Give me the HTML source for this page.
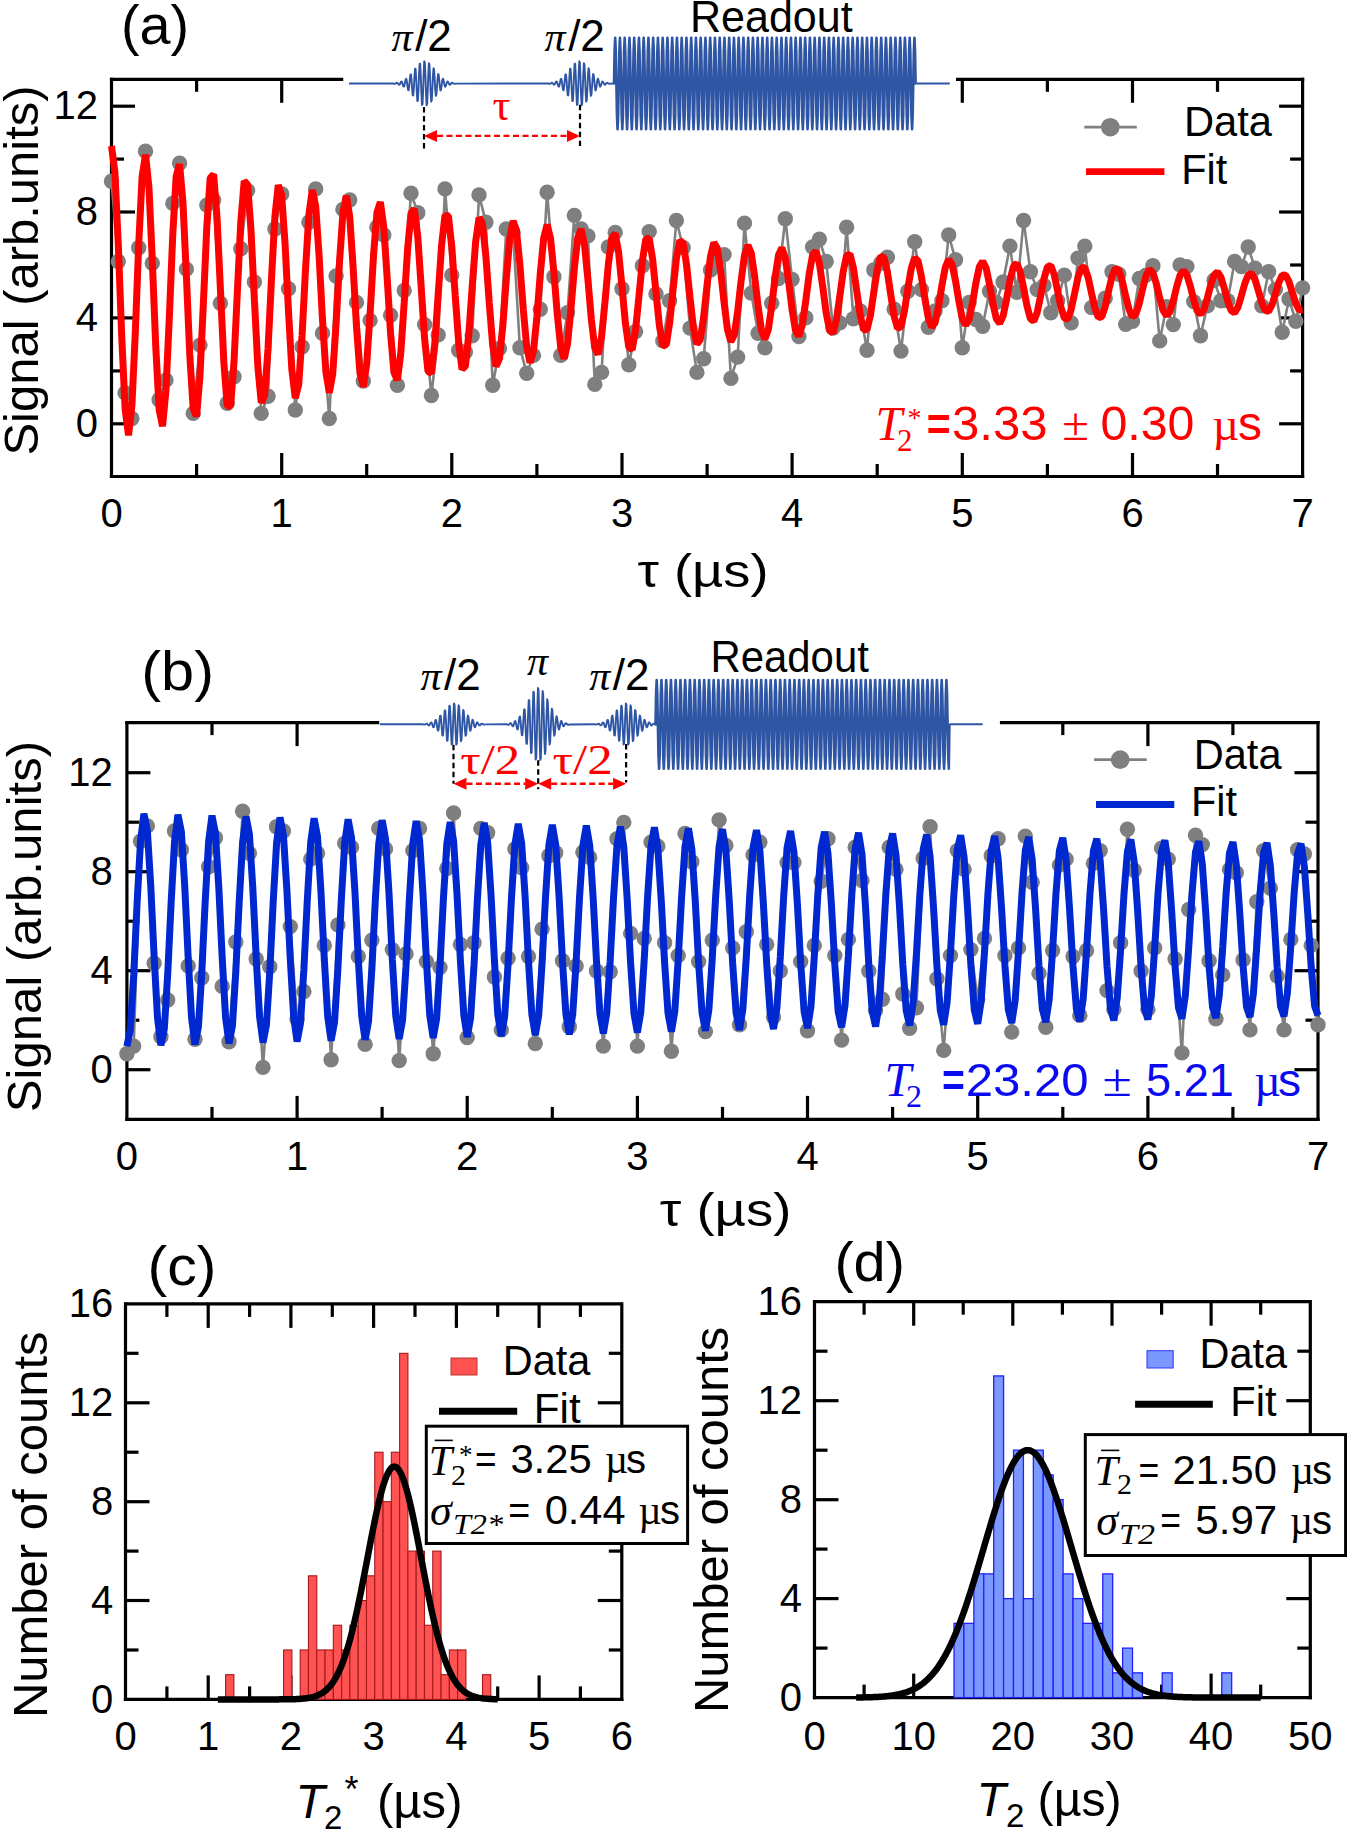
<!DOCTYPE html>
<html><head><meta charset="utf-8"><title>Ramsey and Hahn echo</title>
<style>html,body{margin:0;padding:0;background:#fff;overflow:hidden}svg{display:block}</style></head>
<body><svg width="1347" height="1832" viewBox="0 0 1347 1832">
<rect x="0" y="0" width="1347" height="1832" fill="#fff"/>
<line x1="109.9" y1="79.3" x2="343.5" y2="79.3" stroke="#000" stroke-width="3.2" />
<line x1="956" y1="79.3" x2="1304.2" y2="79.3" stroke="#000" stroke-width="3.2" />
<line x1="109.9" y1="476.5" x2="1304.2" y2="476.5" stroke="#000" stroke-width="3.2" />
<line x1="111.5" y1="77.7" x2="111.5" y2="478.1" stroke="#000" stroke-width="3.2" />
<line x1="1302.6" y1="77.7" x2="1302.6" y2="478.1" stroke="#000" stroke-width="3.2" />
<line x1="281.7" y1="476.5" x2="281.7" y2="453" stroke="#000" stroke-width="3.2" />
<line x1="281.7" y1="79.3" x2="281.7" y2="102.8" stroke="#000" stroke-width="3.2" />
<line x1="451.8" y1="476.5" x2="451.8" y2="453" stroke="#000" stroke-width="3.2" />
<line x1="622" y1="476.5" x2="622" y2="453" stroke="#000" stroke-width="3.2" />
<line x1="792.1" y1="476.5" x2="792.1" y2="453" stroke="#000" stroke-width="3.2" />
<line x1="962.3" y1="476.5" x2="962.3" y2="453" stroke="#000" stroke-width="3.2" />
<line x1="962.3" y1="79.3" x2="962.3" y2="102.8" stroke="#000" stroke-width="3.2" />
<line x1="1132.5" y1="476.5" x2="1132.5" y2="453" stroke="#000" stroke-width="3.2" />
<line x1="1132.5" y1="79.3" x2="1132.5" y2="102.8" stroke="#000" stroke-width="3.2" />
<line x1="196.6" y1="476.5" x2="196.6" y2="464" stroke="#000" stroke-width="3.2" />
<line x1="196.6" y1="79.3" x2="196.6" y2="91.8" stroke="#000" stroke-width="3.2" />
<line x1="366.7" y1="476.5" x2="366.7" y2="464" stroke="#000" stroke-width="3.2" />
<line x1="536.9" y1="476.5" x2="536.9" y2="464" stroke="#000" stroke-width="3.2" />
<line x1="707.1" y1="476.5" x2="707.1" y2="464" stroke="#000" stroke-width="3.2" />
<line x1="877.2" y1="476.5" x2="877.2" y2="464" stroke="#000" stroke-width="3.2" />
<line x1="1047.4" y1="476.5" x2="1047.4" y2="464" stroke="#000" stroke-width="3.2" />
<line x1="1047.4" y1="79.3" x2="1047.4" y2="91.8" stroke="#000" stroke-width="3.2" />
<line x1="1217.5" y1="476.5" x2="1217.5" y2="464" stroke="#000" stroke-width="3.2" />
<line x1="1217.5" y1="79.3" x2="1217.5" y2="91.8" stroke="#000" stroke-width="3.2" />
<line x1="111.5" y1="423.8" x2="135" y2="423.8" stroke="#000" stroke-width="3.2" />
<line x1="1302.6" y1="423.8" x2="1279.1" y2="423.8" stroke="#000" stroke-width="3.2" />
<line x1="111.5" y1="317.9" x2="135" y2="317.9" stroke="#000" stroke-width="3.2" />
<line x1="1302.6" y1="317.9" x2="1279.1" y2="317.9" stroke="#000" stroke-width="3.2" />
<line x1="111.5" y1="212" x2="135" y2="212" stroke="#000" stroke-width="3.2" />
<line x1="1302.6" y1="212" x2="1279.1" y2="212" stroke="#000" stroke-width="3.2" />
<line x1="111.5" y1="106.2" x2="135" y2="106.2" stroke="#000" stroke-width="3.2" />
<line x1="1302.6" y1="106.2" x2="1279.1" y2="106.2" stroke="#000" stroke-width="3.2" />
<line x1="111.5" y1="370.9" x2="124" y2="370.9" stroke="#000" stroke-width="3.2" />
<line x1="1302.6" y1="370.9" x2="1290.1" y2="370.9" stroke="#000" stroke-width="3.2" />
<line x1="111.5" y1="265" x2="124" y2="265" stroke="#000" stroke-width="3.2" />
<line x1="1302.6" y1="265" x2="1290.1" y2="265" stroke="#000" stroke-width="3.2" />
<line x1="111.5" y1="159.1" x2="124" y2="159.1" stroke="#000" stroke-width="3.2" />
<line x1="1302.6" y1="159.1" x2="1290.1" y2="159.1" stroke="#000" stroke-width="3.2" />
<line x1="125.3" y1="722.6" x2="379.5" y2="722.6" stroke="#000" stroke-width="3.2" />
<line x1="999.7" y1="722.6" x2="1319.6" y2="722.6" stroke="#000" stroke-width="3.2" />
<line x1="125.3" y1="1119.4" x2="1319.6" y2="1119.4" stroke="#000" stroke-width="3.2" />
<line x1="126.9" y1="721" x2="126.9" y2="1121" stroke="#000" stroke-width="3.2" />
<line x1="1318" y1="721" x2="1318" y2="1121" stroke="#000" stroke-width="3.2" />
<line x1="297.1" y1="1119.4" x2="297.1" y2="1095.9" stroke="#000" stroke-width="3.2" />
<line x1="297.1" y1="722.6" x2="297.1" y2="746.1" stroke="#000" stroke-width="3.2" />
<line x1="467.2" y1="1119.4" x2="467.2" y2="1095.9" stroke="#000" stroke-width="3.2" />
<line x1="637.4" y1="1119.4" x2="637.4" y2="1095.9" stroke="#000" stroke-width="3.2" />
<line x1="807.5" y1="1119.4" x2="807.5" y2="1095.9" stroke="#000" stroke-width="3.2" />
<line x1="977.7" y1="1119.4" x2="977.7" y2="1095.9" stroke="#000" stroke-width="3.2" />
<line x1="1147.9" y1="1119.4" x2="1147.9" y2="1095.9" stroke="#000" stroke-width="3.2" />
<line x1="1147.9" y1="722.6" x2="1147.9" y2="746.1" stroke="#000" stroke-width="3.2" />
<line x1="212" y1="1119.4" x2="212" y2="1106.9" stroke="#000" stroke-width="3.2" />
<line x1="212" y1="722.6" x2="212" y2="735.1" stroke="#000" stroke-width="3.2" />
<line x1="382.1" y1="1119.4" x2="382.1" y2="1106.9" stroke="#000" stroke-width="3.2" />
<line x1="552.3" y1="1119.4" x2="552.3" y2="1106.9" stroke="#000" stroke-width="3.2" />
<line x1="722.5" y1="1119.4" x2="722.5" y2="1106.9" stroke="#000" stroke-width="3.2" />
<line x1="892.6" y1="1119.4" x2="892.6" y2="1106.9" stroke="#000" stroke-width="3.2" />
<line x1="1062.8" y1="1119.4" x2="1062.8" y2="1106.9" stroke="#000" stroke-width="3.2" />
<line x1="1062.8" y1="722.6" x2="1062.8" y2="735.1" stroke="#000" stroke-width="3.2" />
<line x1="1232.9" y1="1119.4" x2="1232.9" y2="1106.9" stroke="#000" stroke-width="3.2" />
<line x1="1232.9" y1="722.6" x2="1232.9" y2="735.1" stroke="#000" stroke-width="3.2" />
<line x1="126.9" y1="1069.7" x2="150.4" y2="1069.7" stroke="#000" stroke-width="3.2" />
<line x1="1318" y1="1069.7" x2="1294.5" y2="1069.7" stroke="#000" stroke-width="3.2" />
<line x1="126.9" y1="970.7" x2="150.4" y2="970.7" stroke="#000" stroke-width="3.2" />
<line x1="1318" y1="970.7" x2="1294.5" y2="970.7" stroke="#000" stroke-width="3.2" />
<line x1="126.9" y1="871.7" x2="150.4" y2="871.7" stroke="#000" stroke-width="3.2" />
<line x1="1318" y1="871.7" x2="1294.5" y2="871.7" stroke="#000" stroke-width="3.2" />
<line x1="126.9" y1="772.7" x2="150.4" y2="772.7" stroke="#000" stroke-width="3.2" />
<line x1="1318" y1="772.7" x2="1294.5" y2="772.7" stroke="#000" stroke-width="3.2" />
<line x1="126.9" y1="1020.2" x2="139.4" y2="1020.2" stroke="#000" stroke-width="3.2" />
<line x1="1318" y1="1020.2" x2="1305.5" y2="1020.2" stroke="#000" stroke-width="3.2" />
<line x1="126.9" y1="921.2" x2="139.4" y2="921.2" stroke="#000" stroke-width="3.2" />
<line x1="1318" y1="921.2" x2="1305.5" y2="921.2" stroke="#000" stroke-width="3.2" />
<line x1="126.9" y1="822.2" x2="139.4" y2="822.2" stroke="#000" stroke-width="3.2" />
<line x1="1318" y1="822.2" x2="1305.5" y2="822.2" stroke="#000" stroke-width="3.2" />
<line x1="125.5" y1="1303.9" x2="621.8" y2="1303.9" stroke="#000" stroke-width="3.2" />
<line x1="123.9" y1="1699.4" x2="623.4" y2="1699.4" stroke="#000" stroke-width="3.2" />
<line x1="125.5" y1="1302.3" x2="125.5" y2="1701" stroke="#000" stroke-width="3.2" />
<line x1="621.8" y1="1302.3" x2="621.8" y2="1701" stroke="#000" stroke-width="3.2" />
<line x1="208.2" y1="1699.4" x2="208.2" y2="1675.4" stroke="#000" stroke-width="3.2" />
<line x1="208.2" y1="1303.9" x2="208.2" y2="1327.9" stroke="#000" stroke-width="3.2" />
<line x1="290.9" y1="1699.4" x2="290.9" y2="1675.4" stroke="#000" stroke-width="3.2" />
<line x1="290.9" y1="1303.9" x2="290.9" y2="1327.9" stroke="#000" stroke-width="3.2" />
<line x1="373.6" y1="1699.4" x2="373.6" y2="1675.4" stroke="#000" stroke-width="3.2" />
<line x1="373.6" y1="1303.9" x2="373.6" y2="1327.9" stroke="#000" stroke-width="3.2" />
<line x1="456.4" y1="1699.4" x2="456.4" y2="1675.4" stroke="#000" stroke-width="3.2" />
<line x1="456.4" y1="1303.9" x2="456.4" y2="1327.9" stroke="#000" stroke-width="3.2" />
<line x1="539.1" y1="1699.4" x2="539.1" y2="1675.4" stroke="#000" stroke-width="3.2" />
<line x1="539.1" y1="1303.9" x2="539.1" y2="1327.9" stroke="#000" stroke-width="3.2" />
<line x1="166.9" y1="1699.4" x2="166.9" y2="1686.4" stroke="#000" stroke-width="3.2" />
<line x1="166.9" y1="1303.9" x2="166.9" y2="1316.9" stroke="#000" stroke-width="3.2" />
<line x1="249.6" y1="1699.4" x2="249.6" y2="1686.4" stroke="#000" stroke-width="3.2" />
<line x1="249.6" y1="1303.9" x2="249.6" y2="1316.9" stroke="#000" stroke-width="3.2" />
<line x1="332.3" y1="1699.4" x2="332.3" y2="1686.4" stroke="#000" stroke-width="3.2" />
<line x1="332.3" y1="1303.9" x2="332.3" y2="1316.9" stroke="#000" stroke-width="3.2" />
<line x1="415" y1="1699.4" x2="415" y2="1686.4" stroke="#000" stroke-width="3.2" />
<line x1="415" y1="1303.9" x2="415" y2="1316.9" stroke="#000" stroke-width="3.2" />
<line x1="497.7" y1="1699.4" x2="497.7" y2="1686.4" stroke="#000" stroke-width="3.2" />
<line x1="497.7" y1="1303.9" x2="497.7" y2="1316.9" stroke="#000" stroke-width="3.2" />
<line x1="580.4" y1="1699.4" x2="580.4" y2="1686.4" stroke="#000" stroke-width="3.2" />
<line x1="580.4" y1="1303.9" x2="580.4" y2="1316.9" stroke="#000" stroke-width="3.2" />
<line x1="125.5" y1="1600.5" x2="149.5" y2="1600.5" stroke="#000" stroke-width="3.2" />
<line x1="621.8" y1="1600.5" x2="597.8" y2="1600.5" stroke="#000" stroke-width="3.2" />
<line x1="125.5" y1="1501.7" x2="149.5" y2="1501.7" stroke="#000" stroke-width="3.2" />
<line x1="621.8" y1="1501.7" x2="597.8" y2="1501.7" stroke="#000" stroke-width="3.2" />
<line x1="125.5" y1="1402.8" x2="149.5" y2="1402.8" stroke="#000" stroke-width="3.2" />
<line x1="621.8" y1="1402.8" x2="597.8" y2="1402.8" stroke="#000" stroke-width="3.2" />
<line x1="125.5" y1="1650" x2="138.5" y2="1650" stroke="#000" stroke-width="3.2" />
<line x1="621.8" y1="1650" x2="608.8" y2="1650" stroke="#000" stroke-width="3.2" />
<line x1="125.5" y1="1551.1" x2="138.5" y2="1551.1" stroke="#000" stroke-width="3.2" />
<line x1="621.8" y1="1551.1" x2="608.8" y2="1551.1" stroke="#000" stroke-width="3.2" />
<line x1="125.5" y1="1452.2" x2="138.5" y2="1452.2" stroke="#000" stroke-width="3.2" />
<line x1="621.8" y1="1452.2" x2="608.8" y2="1452.2" stroke="#000" stroke-width="3.2" />
<line x1="125.5" y1="1353.3" x2="138.5" y2="1353.3" stroke="#000" stroke-width="3.2" />
<line x1="621.8" y1="1353.3" x2="608.8" y2="1353.3" stroke="#000" stroke-width="3.2" />
<line x1="814.5" y1="1301.7" x2="1310.3" y2="1301.7" stroke="#000" stroke-width="3.2" />
<line x1="812.9" y1="1697.6" x2="1311.9" y2="1697.6" stroke="#000" stroke-width="3.2" />
<line x1="814.5" y1="1300.1" x2="814.5" y2="1699.2" stroke="#000" stroke-width="3.2" />
<line x1="1310.3" y1="1300.1" x2="1310.3" y2="1699.2" stroke="#000" stroke-width="3.2" />
<line x1="913.7" y1="1697.6" x2="913.7" y2="1673.6" stroke="#000" stroke-width="3.2" />
<line x1="913.7" y1="1301.7" x2="913.7" y2="1325.7" stroke="#000" stroke-width="3.2" />
<line x1="1012.8" y1="1697.6" x2="1012.8" y2="1673.6" stroke="#000" stroke-width="3.2" />
<line x1="1012.8" y1="1301.7" x2="1012.8" y2="1325.7" stroke="#000" stroke-width="3.2" />
<line x1="1112" y1="1697.6" x2="1112" y2="1673.6" stroke="#000" stroke-width="3.2" />
<line x1="1112" y1="1301.7" x2="1112" y2="1325.7" stroke="#000" stroke-width="3.2" />
<line x1="1211.1" y1="1697.6" x2="1211.1" y2="1673.6" stroke="#000" stroke-width="3.2" />
<line x1="1211.1" y1="1301.7" x2="1211.1" y2="1325.7" stroke="#000" stroke-width="3.2" />
<line x1="864.1" y1="1697.6" x2="864.1" y2="1684.6" stroke="#000" stroke-width="3.2" />
<line x1="864.1" y1="1301.7" x2="864.1" y2="1314.7" stroke="#000" stroke-width="3.2" />
<line x1="963.2" y1="1697.6" x2="963.2" y2="1684.6" stroke="#000" stroke-width="3.2" />
<line x1="963.2" y1="1301.7" x2="963.2" y2="1314.7" stroke="#000" stroke-width="3.2" />
<line x1="1062.4" y1="1697.6" x2="1062.4" y2="1684.6" stroke="#000" stroke-width="3.2" />
<line x1="1062.4" y1="1301.7" x2="1062.4" y2="1314.7" stroke="#000" stroke-width="3.2" />
<line x1="1161.6" y1="1697.6" x2="1161.6" y2="1684.6" stroke="#000" stroke-width="3.2" />
<line x1="1161.6" y1="1301.7" x2="1161.6" y2="1314.7" stroke="#000" stroke-width="3.2" />
<line x1="1260.7" y1="1697.6" x2="1260.7" y2="1684.6" stroke="#000" stroke-width="3.2" />
<line x1="1260.7" y1="1301.7" x2="1260.7" y2="1314.7" stroke="#000" stroke-width="3.2" />
<line x1="814.5" y1="1598.6" x2="838.5" y2="1598.6" stroke="#000" stroke-width="3.2" />
<line x1="1310.3" y1="1598.6" x2="1286.3" y2="1598.6" stroke="#000" stroke-width="3.2" />
<line x1="814.5" y1="1499.7" x2="838.5" y2="1499.7" stroke="#000" stroke-width="3.2" />
<line x1="1310.3" y1="1499.7" x2="1286.3" y2="1499.7" stroke="#000" stroke-width="3.2" />
<line x1="814.5" y1="1400.7" x2="838.5" y2="1400.7" stroke="#000" stroke-width="3.2" />
<line x1="1310.3" y1="1400.7" x2="1286.3" y2="1400.7" stroke="#000" stroke-width="3.2" />
<line x1="814.5" y1="1648.1" x2="827.5" y2="1648.1" stroke="#000" stroke-width="3.2" />
<line x1="1310.3" y1="1648.1" x2="1297.3" y2="1648.1" stroke="#000" stroke-width="3.2" />
<line x1="814.5" y1="1549.1" x2="827.5" y2="1549.1" stroke="#000" stroke-width="3.2" />
<line x1="1310.3" y1="1549.1" x2="1297.3" y2="1549.1" stroke="#000" stroke-width="3.2" />
<line x1="814.5" y1="1450.2" x2="827.5" y2="1450.2" stroke="#000" stroke-width="3.2" />
<line x1="1310.3" y1="1450.2" x2="1297.3" y2="1450.2" stroke="#000" stroke-width="3.2" />
<line x1="814.5" y1="1351.2" x2="827.5" y2="1351.2" stroke="#000" stroke-width="3.2" />
<line x1="1310.3" y1="1351.2" x2="1297.3" y2="1351.2" stroke="#000" stroke-width="3.2" />
<text x="111.5" y="527.3" font-family='"Liberation Sans", sans-serif' font-size="40" fill="#000" text-anchor="middle" >0</text>
<text x="126.9" y="1169.8" font-family='"Liberation Sans", sans-serif' font-size="40" fill="#000" text-anchor="middle" >0</text>
<text x="281.7" y="527.3" font-family='"Liberation Sans", sans-serif' font-size="40" fill="#000" text-anchor="middle" >1</text>
<text x="297.1" y="1169.8" font-family='"Liberation Sans", sans-serif' font-size="40" fill="#000" text-anchor="middle" >1</text>
<text x="451.8" y="527.3" font-family='"Liberation Sans", sans-serif' font-size="40" fill="#000" text-anchor="middle" >2</text>
<text x="467.2" y="1169.8" font-family='"Liberation Sans", sans-serif' font-size="40" fill="#000" text-anchor="middle" >2</text>
<text x="622" y="527.3" font-family='"Liberation Sans", sans-serif' font-size="40" fill="#000" text-anchor="middle" >3</text>
<text x="637.4" y="1169.8" font-family='"Liberation Sans", sans-serif' font-size="40" fill="#000" text-anchor="middle" >3</text>
<text x="792.1" y="527.3" font-family='"Liberation Sans", sans-serif' font-size="40" fill="#000" text-anchor="middle" >4</text>
<text x="807.5" y="1169.8" font-family='"Liberation Sans", sans-serif' font-size="40" fill="#000" text-anchor="middle" >4</text>
<text x="962.3" y="527.3" font-family='"Liberation Sans", sans-serif' font-size="40" fill="#000" text-anchor="middle" >5</text>
<text x="977.7" y="1169.8" font-family='"Liberation Sans", sans-serif' font-size="40" fill="#000" text-anchor="middle" >5</text>
<text x="1132.5" y="527.3" font-family='"Liberation Sans", sans-serif' font-size="40" fill="#000" text-anchor="middle" >6</text>
<text x="1147.9" y="1169.8" font-family='"Liberation Sans", sans-serif' font-size="40" fill="#000" text-anchor="middle" >6</text>
<text x="1302.6" y="527.3" font-family='"Liberation Sans", sans-serif' font-size="40" fill="#000" text-anchor="middle" >7</text>
<text x="1318" y="1169.8" font-family='"Liberation Sans", sans-serif' font-size="40" fill="#000" text-anchor="middle" >7</text>
<text x="98" y="436.8" font-family='"Liberation Sans", sans-serif' font-size="40" fill="#000" text-anchor="end" >0</text>
<text x="112.8" y="1083" font-family='"Liberation Sans", sans-serif' font-size="40" fill="#000" text-anchor="end" >0</text>
<text x="98" y="330.9" font-family='"Liberation Sans", sans-serif' font-size="40" fill="#000" text-anchor="end" >4</text>
<text x="112.8" y="984" font-family='"Liberation Sans", sans-serif' font-size="40" fill="#000" text-anchor="end" >4</text>
<text x="98" y="225" font-family='"Liberation Sans", sans-serif' font-size="40" fill="#000" text-anchor="end" >8</text>
<text x="112.8" y="885" font-family='"Liberation Sans", sans-serif' font-size="40" fill="#000" text-anchor="end" >8</text>
<text x="98" y="119.2" font-family='"Liberation Sans", sans-serif' font-size="40" fill="#000" text-anchor="end" >12</text>
<text x="112.8" y="786" font-family='"Liberation Sans", sans-serif' font-size="40" fill="#000" text-anchor="end" >12</text>
<text x="125.5" y="1750.3" font-family='"Liberation Sans", sans-serif' font-size="40" fill="#000" text-anchor="middle" >0</text>
<text x="208.2" y="1750.3" font-family='"Liberation Sans", sans-serif' font-size="40" fill="#000" text-anchor="middle" >1</text>
<text x="290.9" y="1750.3" font-family='"Liberation Sans", sans-serif' font-size="40" fill="#000" text-anchor="middle" >2</text>
<text x="373.6" y="1750.3" font-family='"Liberation Sans", sans-serif' font-size="40" fill="#000" text-anchor="middle" >3</text>
<text x="456.4" y="1750.3" font-family='"Liberation Sans", sans-serif' font-size="40" fill="#000" text-anchor="middle" >4</text>
<text x="539.1" y="1750.3" font-family='"Liberation Sans", sans-serif' font-size="40" fill="#000" text-anchor="middle" >5</text>
<text x="621.8" y="1750.3" font-family='"Liberation Sans", sans-serif' font-size="40" fill="#000" text-anchor="middle" >6</text>
<text x="814.5" y="1749.8" font-family='"Liberation Sans", sans-serif' font-size="40" fill="#000" text-anchor="middle" >0</text>
<text x="913.7" y="1749.8" font-family='"Liberation Sans", sans-serif' font-size="40" fill="#000" text-anchor="middle" >10</text>
<text x="1012.8" y="1749.8" font-family='"Liberation Sans", sans-serif' font-size="40" fill="#000" text-anchor="middle" >20</text>
<text x="1112" y="1749.8" font-family='"Liberation Sans", sans-serif' font-size="40" fill="#000" text-anchor="middle" >30</text>
<text x="1211.1" y="1749.8" font-family='"Liberation Sans", sans-serif' font-size="40" fill="#000" text-anchor="middle" >40</text>
<text x="1310.3" y="1749.8" font-family='"Liberation Sans", sans-serif' font-size="40" fill="#000" text-anchor="middle" >50</text>
<text x="113.3" y="1712.7" font-family='"Liberation Sans", sans-serif' font-size="40" fill="#000" text-anchor="end" >0</text>
<text x="802" y="1710.6" font-family='"Liberation Sans", sans-serif' font-size="40" fill="#000" text-anchor="end" >0</text>
<text x="113.3" y="1613.8" font-family='"Liberation Sans", sans-serif' font-size="40" fill="#000" text-anchor="end" >4</text>
<text x="802" y="1611.6" font-family='"Liberation Sans", sans-serif' font-size="40" fill="#000" text-anchor="end" >4</text>
<text x="113.3" y="1515" font-family='"Liberation Sans", sans-serif' font-size="40" fill="#000" text-anchor="end" >8</text>
<text x="802" y="1512.7" font-family='"Liberation Sans", sans-serif' font-size="40" fill="#000" text-anchor="end" >8</text>
<text x="113.3" y="1416.1" font-family='"Liberation Sans", sans-serif' font-size="40" fill="#000" text-anchor="end" >12</text>
<text x="802" y="1413.7" font-family='"Liberation Sans", sans-serif' font-size="40" fill="#000" text-anchor="end" >12</text>
<text x="113.3" y="1317.2" font-family='"Liberation Sans", sans-serif' font-size="40" fill="#000" text-anchor="end" >16</text>
<text x="802" y="1314.7" font-family='"Liberation Sans", sans-serif' font-size="40" fill="#000" text-anchor="end" >16</text>
<text x="-2.2" y="0" transform="translate(37.5,453.4) rotate(-90)" font-family='"Liberation Sans", sans-serif' font-size="49" textLength="370.2" lengthAdjust="spacingAndGlyphs">Signal (arb.units)</text>
<text x="-2.2" y="0" transform="translate(40.5,1110) rotate(-90)" font-family='"Liberation Sans", sans-serif' font-size="49" textLength="371.3" lengthAdjust="spacingAndGlyphs">Signal (arb.units)</text>
<text x="-4" y="0" transform="translate(47.4,1714.1) rotate(-90)" font-family='"Liberation Sans", sans-serif' font-size="49" textLength="386.6" lengthAdjust="spacingAndGlyphs">Number of counts</text>
<text x="-4" y="0" transform="translate(728.1,1709) rotate(-90)" font-family='"Liberation Sans", sans-serif' font-size="49" textLength="386.2" lengthAdjust="spacingAndGlyphs">Number of counts</text>
<text x="637.5" y="587" font-family='"Liberation Sans", sans-serif' font-size="46" fill="#000" textLength="131" lengthAdjust="spacingAndGlyphs" >τ (µs)</text>
<text x="659.8" y="1226.4" font-family='"Liberation Sans", sans-serif' font-size="46" fill="#000" textLength="131.5" lengthAdjust="spacingAndGlyphs" >τ (µs)</text>
<text x="295.5" y="1818" font-family='"Liberation Sans", sans-serif' font-size="48" fill="#000" font-style="italic" >T</text>
<text x="324" y="1829" font-family='"Liberation Sans", sans-serif' font-size="33" fill="#000" >2</text>
<text x="344.5" y="1802" font-family='"Liberation Sans", sans-serif' font-size="36" fill="#000" >*</text>
<text x="377" y="1818" font-family='"Liberation Sans", sans-serif' font-size="48" fill="#000" textLength="85.5" lengthAdjust="spacingAndGlyphs" >(µs)</text>
<text x="976.5" y="1815.7" font-family='"Liberation Sans", sans-serif' font-size="48" fill="#000" font-style="italic" >T</text>
<text x="1006" y="1827" font-family='"Liberation Sans", sans-serif' font-size="33" fill="#000" >2</text>
<text x="1037.6" y="1815.7" font-family='"Liberation Sans", sans-serif' font-size="48" fill="#000" textLength="84" lengthAdjust="spacingAndGlyphs" >(µs)</text>
<text x="121" y="43.5" font-family='"Liberation Sans", sans-serif' font-size="55" fill="#000" textLength="68.1" lengthAdjust="spacingAndGlyphs" >(a)</text>
<text x="141.3" y="689.5" font-family='"Liberation Sans", sans-serif' font-size="55" fill="#000" textLength="72.7" lengthAdjust="spacingAndGlyphs" >(b)</text>
<text x="147.6" y="1284.5" font-family='"Liberation Sans", sans-serif' font-size="55" fill="#000" textLength="68.8" lengthAdjust="spacingAndGlyphs" >(c)</text>
<text x="834.4" y="1280.5" font-family='"Liberation Sans", sans-serif' font-size="55" fill="#000" textLength="70.6" lengthAdjust="spacingAndGlyphs" >(d)</text>
<rect x="225.60" y="1674.68" width="8.29" height="24.72" fill="#ff5252" stroke="#a81818" stroke-width="1.1"/>
<rect x="283.61" y="1649.96" width="8.29" height="49.44" fill="#ff5252" stroke="#a81818" stroke-width="1.1"/>
<rect x="300.18" y="1649.96" width="8.29" height="49.44" fill="#ff5252" stroke="#a81818" stroke-width="1.1"/>
<rect x="308.47" y="1575.81" width="8.29" height="123.59" fill="#ff5252" stroke="#a81818" stroke-width="1.1"/>
<rect x="316.76" y="1649.96" width="8.29" height="49.44" fill="#ff5252" stroke="#a81818" stroke-width="1.1"/>
<rect x="325.04" y="1649.96" width="8.29" height="49.44" fill="#ff5252" stroke="#a81818" stroke-width="1.1"/>
<rect x="333.33" y="1625.24" width="8.29" height="74.16" fill="#ff5252" stroke="#a81818" stroke-width="1.1"/>
<rect x="341.62" y="1649.96" width="8.29" height="49.44" fill="#ff5252" stroke="#a81818" stroke-width="1.1"/>
<rect x="349.90" y="1625.24" width="8.29" height="74.16" fill="#ff5252" stroke="#a81818" stroke-width="1.1"/>
<rect x="358.19" y="1600.53" width="8.29" height="98.88" fill="#ff5252" stroke="#a81818" stroke-width="1.1"/>
<rect x="366.48" y="1575.81" width="8.29" height="123.59" fill="#ff5252" stroke="#a81818" stroke-width="1.1"/>
<rect x="374.77" y="1452.21" width="8.29" height="247.19" fill="#ff5252" stroke="#a81818" stroke-width="1.1"/>
<rect x="383.05" y="1501.65" width="8.29" height="197.75" fill="#ff5252" stroke="#a81818" stroke-width="1.1"/>
<rect x="391.34" y="1452.21" width="8.29" height="247.19" fill="#ff5252" stroke="#a81818" stroke-width="1.1"/>
<rect x="399.63" y="1353.34" width="8.29" height="346.06" fill="#ff5252" stroke="#a81818" stroke-width="1.1"/>
<rect x="407.91" y="1551.09" width="8.29" height="148.31" fill="#ff5252" stroke="#a81818" stroke-width="1.1"/>
<rect x="416.20" y="1551.09" width="8.29" height="148.31" fill="#ff5252" stroke="#a81818" stroke-width="1.1"/>
<rect x="424.49" y="1625.24" width="8.29" height="74.16" fill="#ff5252" stroke="#a81818" stroke-width="1.1"/>
<rect x="432.77" y="1551.09" width="8.29" height="148.31" fill="#ff5252" stroke="#a81818" stroke-width="1.1"/>
<rect x="441.06" y="1674.68" width="8.29" height="24.72" fill="#ff5252" stroke="#a81818" stroke-width="1.1"/>
<rect x="449.35" y="1649.96" width="8.29" height="49.44" fill="#ff5252" stroke="#a81818" stroke-width="1.1"/>
<rect x="457.64" y="1649.96" width="8.29" height="49.44" fill="#ff5252" stroke="#a81818" stroke-width="1.1"/>
<rect x="482.50" y="1674.68" width="8.29" height="24.72" fill="#ff5252" stroke="#a81818" stroke-width="1.1"/>
<rect x="954.02" y="1623.37" width="9.92" height="74.23" fill="#7b98ff" stroke="#2020ff" stroke-width="1.3"/>
<rect x="963.93" y="1623.37" width="9.92" height="74.23" fill="#7b98ff" stroke="#2020ff" stroke-width="1.3"/>
<rect x="973.85" y="1573.88" width="9.92" height="123.72" fill="#7b98ff" stroke="#2020ff" stroke-width="1.3"/>
<rect x="983.77" y="1573.88" width="9.92" height="123.72" fill="#7b98ff" stroke="#2020ff" stroke-width="1.3"/>
<rect x="993.68" y="1375.93" width="9.92" height="321.67" fill="#7b98ff" stroke="#2020ff" stroke-width="1.3"/>
<rect x="1003.60" y="1598.62" width="9.92" height="98.97" fill="#7b98ff" stroke="#2020ff" stroke-width="1.3"/>
<rect x="1013.51" y="1450.16" width="9.92" height="247.44" fill="#7b98ff" stroke="#2020ff" stroke-width="1.3"/>
<rect x="1023.43" y="1598.62" width="9.92" height="98.97" fill="#7b98ff" stroke="#2020ff" stroke-width="1.3"/>
<rect x="1033.35" y="1450.16" width="9.92" height="247.44" fill="#7b98ff" stroke="#2020ff" stroke-width="1.3"/>
<rect x="1043.26" y="1474.91" width="9.92" height="222.69" fill="#7b98ff" stroke="#2020ff" stroke-width="1.3"/>
<rect x="1053.18" y="1499.65" width="9.92" height="197.95" fill="#7b98ff" stroke="#2020ff" stroke-width="1.3"/>
<rect x="1063.09" y="1573.88" width="9.92" height="123.72" fill="#7b98ff" stroke="#2020ff" stroke-width="1.3"/>
<rect x="1073.01" y="1598.62" width="9.92" height="98.97" fill="#7b98ff" stroke="#2020ff" stroke-width="1.3"/>
<rect x="1082.93" y="1623.37" width="9.92" height="74.23" fill="#7b98ff" stroke="#2020ff" stroke-width="1.3"/>
<rect x="1092.84" y="1623.37" width="9.92" height="74.23" fill="#7b98ff" stroke="#2020ff" stroke-width="1.3"/>
<rect x="1102.76" y="1573.88" width="9.92" height="123.72" fill="#7b98ff" stroke="#2020ff" stroke-width="1.3"/>
<rect x="1112.67" y="1672.86" width="9.92" height="24.74" fill="#7b98ff" stroke="#2020ff" stroke-width="1.3"/>
<rect x="1122.59" y="1648.11" width="9.92" height="49.49" fill="#7b98ff" stroke="#2020ff" stroke-width="1.3"/>
<rect x="1132.51" y="1672.86" width="9.92" height="24.74" fill="#7b98ff" stroke="#2020ff" stroke-width="1.3"/>
<rect x="1162.25" y="1672.86" width="9.92" height="24.74" fill="#7b98ff" stroke="#2020ff" stroke-width="1.3"/>
<rect x="1221.75" y="1672.86" width="9.92" height="24.74" fill="#7b98ff" stroke="#2020ff" stroke-width="1.3"/>
<path d="M217.89,1699.40 L219.30,1699.40 L220.71,1699.40 L222.11,1699.40 L223.52,1699.40 L224.93,1699.40 L226.33,1699.40 L227.74,1699.40 L229.14,1699.40 L230.55,1699.40 L231.96,1699.40 L233.36,1699.40 L234.77,1699.40 L236.17,1699.40 L237.58,1699.40 L238.99,1699.40 L240.39,1699.40 L241.80,1699.40 L243.21,1699.40 L244.61,1699.40 L246.02,1699.40 L247.42,1699.40 L248.83,1699.40 L250.24,1699.40 L251.64,1699.40 L253.05,1699.40 L254.46,1699.40 L255.86,1699.40 L257.27,1699.40 L258.67,1699.40 L260.08,1699.40 L261.49,1699.40 L262.89,1699.40 L264.30,1699.40 L265.70,1699.40 L267.11,1699.40 L268.52,1699.40 L269.92,1699.39 L271.33,1699.39 L272.74,1699.39 L274.14,1699.39 L275.55,1699.39 L276.95,1699.38 L278.36,1699.38 L279.77,1699.37 L281.17,1699.37 L282.58,1699.36 L283.99,1699.35 L285.39,1699.34 L286.80,1699.32 L288.20,1699.30 L289.61,1699.28 L291.02,1699.26 L292.42,1699.22 L293.83,1699.19 L295.23,1699.14 L296.64,1699.08 L298.05,1699.02 L299.45,1698.94 L300.86,1698.85 L302.27,1698.74 L303.67,1698.61 L305.08,1698.46 L306.48,1698.28 L307.89,1698.08 L309.30,1697.84 L310.70,1697.56 L312.11,1697.23 L313.51,1696.86 L314.92,1696.43 L316.33,1695.94 L317.73,1695.38 L319.14,1694.74 L320.55,1694.01 L321.95,1693.19 L323.36,1692.26 L324.76,1691.21 L326.17,1690.04 L327.58,1688.73 L328.98,1687.27 L330.39,1685.64 L331.80,1683.84 L333.20,1681.85 L334.61,1679.66 L336.01,1677.25 L337.42,1674.63 L338.83,1671.77 L340.23,1668.66 L341.64,1665.29 L343.04,1661.66 L344.45,1657.76 L345.86,1653.57 L347.26,1649.11 L348.67,1644.36 L350.08,1639.33 L351.48,1634.02 L352.89,1628.43 L354.29,1622.58 L355.70,1616.47 L357.11,1610.12 L358.51,1603.54 L359.92,1596.76 L361.33,1589.81 L362.73,1582.70 L364.14,1575.47 L365.54,1568.15 L366.95,1560.78 L368.36,1553.39 L369.76,1546.03 L371.17,1538.74 L372.57,1531.57 L373.98,1524.55 L375.39,1517.74 L376.79,1511.17 L378.20,1504.91 L379.61,1498.98 L381.01,1493.44 L382.42,1488.32 L383.82,1483.67 L385.23,1479.51 L386.64,1475.89 L388.04,1472.83 L389.45,1470.35 L390.86,1468.49 L392.26,1467.24 L393.67,1466.62 L395.07,1466.64 L396.48,1467.29 L397.89,1468.58 L399.29,1470.48 L400.70,1472.99 L402.10,1476.09 L403.51,1479.74 L404.92,1483.93 L406.32,1488.61 L407.73,1493.75 L409.14,1499.32 L410.54,1505.27 L411.95,1511.55 L413.35,1518.13 L414.76,1524.96 L416.17,1531.99 L417.57,1539.17 L418.98,1546.46 L420.38,1553.82 L421.79,1561.21 L423.20,1568.58 L424.60,1575.89 L426.01,1583.12 L427.42,1590.22 L428.82,1597.17 L430.23,1603.93 L431.63,1610.50 L433.04,1616.83 L434.45,1622.93 L435.85,1628.77 L437.26,1634.34 L438.67,1639.64 L440.07,1644.65 L441.48,1649.38 L442.88,1653.83 L444.29,1657.99 L445.70,1661.88 L447.10,1665.50 L448.51,1668.85 L449.91,1671.94 L451.32,1674.79 L452.73,1677.40 L454.13,1679.79 L455.54,1681.97 L456.95,1683.95 L458.35,1685.74 L459.76,1687.36 L461.16,1688.81 L462.57,1690.11 L463.98,1691.28 L465.38,1692.32 L466.79,1693.24 L468.20,1694.06 L469.60,1694.78 L471.01,1695.41 L472.41,1695.97 L473.82,1696.46 L475.23,1696.88 L476.63,1697.25 L478.04,1697.57 L479.44,1697.85 L480.85,1698.09 L482.26,1698.29 L483.66,1698.47 L485.07,1698.62 L486.48,1698.75 L487.88,1698.85 L489.29,1698.95 L490.69,1699.02 L492.10,1699.09 L493.51,1699.14 L494.91,1699.19 L496.32,1699.23 L497.72,1699.26" fill="none" stroke="#000" stroke-width="6.5" stroke-linejoin="round"/>
<path d="M856.15,1697.48 L857.50,1697.47 L858.85,1697.45 L860.21,1697.43 L861.56,1697.41 L862.91,1697.39 L864.27,1697.36 L865.62,1697.33 L866.97,1697.30 L868.32,1697.27 L869.68,1697.23 L871.03,1697.18 L872.38,1697.14 L873.74,1697.08 L875.09,1697.02 L876.44,1696.96 L877.80,1696.89 L879.15,1696.81 L880.50,1696.72 L881.86,1696.62 L883.21,1696.52 L884.56,1696.40 L885.92,1696.28 L887.27,1696.14 L888.62,1695.99 L889.97,1695.82 L891.33,1695.64 L892.68,1695.45 L894.03,1695.23 L895.39,1695.00 L896.74,1694.75 L898.09,1694.48 L899.45,1694.18 L900.80,1693.86 L902.15,1693.51 L903.51,1693.13 L904.86,1692.73 L906.21,1692.29 L907.56,1691.82 L908.92,1691.31 L910.27,1690.76 L911.62,1690.18 L912.98,1689.55 L914.33,1688.88 L915.68,1688.16 L917.04,1687.38 L918.39,1686.56 L919.74,1685.68 L921.10,1684.75 L922.45,1683.75 L923.80,1682.69 L925.15,1681.57 L926.51,1680.38 L927.86,1679.11 L929.21,1677.78 L930.57,1676.36 L931.92,1674.87 L933.27,1673.30 L934.63,1671.64 L935.98,1669.89 L937.33,1668.06 L938.69,1666.13 L940.04,1664.11 L941.39,1661.99 L942.74,1659.78 L944.10,1657.47 L945.45,1655.05 L946.80,1652.54 L948.16,1649.92 L949.51,1647.19 L950.86,1644.37 L952.22,1641.43 L953.57,1638.39 L954.92,1635.25 L956.28,1632.00 L957.63,1628.65 L958.98,1625.20 L960.33,1621.64 L961.69,1617.99 L963.04,1614.24 L964.39,1610.40 L965.75,1606.47 L967.10,1602.45 L968.45,1598.34 L969.81,1594.16 L971.16,1589.91 L972.51,1585.59 L973.87,1581.21 L975.22,1576.77 L976.57,1572.28 L977.92,1567.74 L979.28,1563.17 L980.63,1558.58 L981.98,1553.96 L983.34,1549.33 L984.69,1544.70 L986.04,1540.07 L987.40,1535.46 L988.75,1530.87 L990.10,1526.31 L991.46,1521.80 L992.81,1517.34 L994.16,1512.94 L995.52,1508.62 L996.87,1504.38 L998.22,1500.23 L999.57,1496.19 L1000.93,1492.26 L1002.28,1488.45 L1003.63,1484.77 L1004.99,1481.24 L1006.34,1477.86 L1007.69,1474.63 L1009.05,1471.58 L1010.40,1468.70 L1011.75,1466.00 L1013.11,1463.50 L1014.46,1461.19 L1015.81,1459.09 L1017.16,1457.20 L1018.52,1455.53 L1019.87,1454.07 L1021.22,1452.84 L1022.58,1451.84 L1023.93,1451.07 L1025.28,1450.54 L1026.64,1450.23 L1027.99,1450.17 L1029.34,1450.34 L1030.70,1450.74 L1032.05,1451.38 L1033.40,1452.25 L1034.75,1453.35 L1036.11,1454.68 L1037.46,1456.23 L1038.81,1458.00 L1040.17,1459.98 L1041.52,1462.17 L1042.87,1464.57 L1044.23,1467.15 L1045.58,1469.93 L1046.93,1472.89 L1048.29,1476.02 L1049.64,1479.31 L1050.99,1482.76 L1052.34,1486.36 L1053.70,1490.10 L1055.05,1493.96 L1056.40,1497.94 L1057.76,1502.03 L1059.11,1506.22 L1060.46,1510.50 L1061.82,1514.85 L1063.17,1519.28 L1064.52,1523.76 L1065.88,1528.29 L1067.23,1532.87 L1068.58,1537.47 L1069.93,1542.09 L1071.29,1546.72 L1072.64,1551.35 L1073.99,1555.98 L1075.35,1560.58 L1076.70,1565.17 L1078.05,1569.72 L1079.41,1574.24 L1080.76,1578.71 L1082.11,1583.13 L1083.47,1587.48 L1084.82,1591.78 L1086.17,1596.00 L1087.52,1600.14 L1088.88,1604.21 L1090.23,1608.19 L1091.58,1612.09 L1092.94,1615.89 L1094.29,1619.60 L1095.64,1623.21 L1097.00,1626.72 L1098.35,1630.13 L1099.70,1633.43 L1101.06,1636.63 L1102.41,1639.73 L1103.76,1642.73 L1105.12,1645.61 L1106.47,1648.40 L1107.82,1651.07 L1109.17,1653.65 L1110.53,1656.12 L1111.88,1658.49 L1113.23,1660.76 L1114.59,1662.93 L1115.94,1665.00 L1117.29,1666.98 L1118.65,1668.87 L1120.00,1670.66 L1121.35,1672.37 L1122.71,1673.99 L1124.06,1675.53 L1125.41,1676.99 L1126.76,1678.37 L1128.12,1679.68 L1129.47,1680.91 L1130.82,1682.07 L1132.18,1683.16 L1133.53,1684.20 L1134.88,1685.16 L1136.24,1686.07 L1137.59,1686.93 L1138.94,1687.73 L1140.30,1688.48 L1141.65,1689.18 L1143.00,1689.83 L1144.35,1690.44 L1145.71,1691.01 L1147.06,1691.54 L1148.41,1692.03 L1149.77,1692.48 L1151.12,1692.91 L1152.47,1693.30 L1153.83,1693.66 L1155.18,1694.00 L1156.53,1694.31 L1157.89,1694.60 L1159.24,1694.86 L1160.59,1695.11 L1161.94,1695.33 L1163.30,1695.54 L1164.65,1695.72 L1166.00,1695.90 L1167.36,1696.06 L1168.71,1696.20 L1170.06,1696.33 L1171.42,1696.46 L1172.77,1696.57 L1174.12,1696.67 L1175.48,1696.76 L1176.83,1696.84 L1178.18,1696.92 L1179.53,1696.99 L1180.89,1697.05 L1182.24,1697.11 L1183.59,1697.16 L1184.95,1697.20 L1186.30,1697.25 L1187.65,1697.28 L1189.01,1697.32 L1190.36,1697.35 L1191.71,1697.37 L1193.07,1697.40 L1194.42,1697.42 L1195.77,1697.44 L1197.12,1697.46 L1198.48,1697.48 L1199.83,1697.49 L1201.18,1697.50 L1202.54,1697.51 L1203.89,1697.52 L1205.24,1697.53 L1206.60,1697.54 L1207.95,1697.55 L1209.30,1697.55 L1210.66,1697.56 L1212.01,1697.56 L1213.36,1697.57 L1214.72,1697.57 L1216.07,1697.58 L1217.42,1697.58 L1218.77,1697.58 L1220.13,1697.58 L1221.48,1697.59 L1222.83,1697.59 L1224.19,1697.59 L1225.54,1697.59 L1226.89,1697.59 L1228.25,1697.59 L1229.60,1697.59 L1230.95,1697.59 L1232.31,1697.60 L1233.66,1697.60 L1235.01,1697.60 L1236.36,1697.60 L1237.72,1697.60 L1239.07,1697.60 L1240.42,1697.60 L1241.78,1697.60 L1243.13,1697.60 L1244.48,1697.60 L1245.84,1697.60 L1247.19,1697.60 L1248.54,1697.60 L1249.90,1697.60 L1251.25,1697.60 L1252.60,1697.60 L1253.95,1697.60 L1255.31,1697.60 L1256.66,1697.60 L1258.01,1697.60 L1259.37,1697.60 L1260.72,1697.60" fill="none" stroke="#000" stroke-width="6.5" stroke-linejoin="round"/>
<polyline points="111.5,181.2 118.3,261.5 125.1,392.9 131.9,418.5 138.7,247.8 145.5,151.3 152.3,263.2 159.1,399.8 166,380.1 172.8,203.4 179.6,163.3 186.4,269.1 193.2,413.4 200,345.1 206.8,205.1 213.6,200 220.4,303.3 227.2,403.2 234,376.7 240.8,248.7 247.6,190.6 254.4,282 261.2,413.4 268,396.3 274.9,229 281.7,194 288.5,288.8 295.3,410 302.1,346.8 308.9,222.2 315.7,188.9 322.5,333.2 329.3,418.5 336.1,276 342.9,209.4 349.7,200 356.5,302.4 363.3,381 370.1,320.4 376.9,227.3 383.8,235 390.6,315.2 397.4,385.3 404.2,290.5 411,193.2 417.8,212.8 424.6,324.6 431.4,395.5 438.2,334.9 445,188.9 451.8,275.1 458.6,350.2 465.4,352 472.2,335.7 479,194.9 485.9,222.2 492.7,385.3 499.5,348.5 506.3,229 513.1,232.4 519.9,347.7 526.7,373.3 533.5,355.4 540.3,309.3 547.1,192.3 553.9,276.8 560.7,355.4 567.5,312.7 574.3,215.4 581.1,229 587.9,235.9 594.8,384.4 601.6,372.4 608.4,247 615.2,232.4 622,288.8 628.8,364.8 635.6,331.5 642.4,265.7 649.2,231.6 656,293.9 662.8,340.9 669.6,300.7 676.4,220.5 683.2,247.8 690,328.1 696.9,372.4 703.7,358.8 710.5,270 717.3,259.8 724.1,254.6 730.9,378.4 737.7,357.1 744.5,223.1 751.3,293.1 758.1,333.2 764.9,347.7 771.7,303.3 778.5,278.5 785.3,218.8 792.1,279.4 798.9,336.6 805.8,317.8 812.6,247 819.4,239.3 826.2,261.5 833,328.1 839.8,322.9 846.6,227.3 853.4,318.7 860.2,311 867,350.2 873.8,270 880.6,263.2 887.4,257.2 894.2,309.3 901,351.1 907.8,291.3 914.7,241.8 921.5,289.6 928.3,327.2 935.1,311 941.9,300.7 948.7,235 955.5,259.8 962.3,347.7 969.1,302.4 975.9,319.5 982.7,326.3 989.5,291.3 996.3,302.4 1003.1,282 1009.9,246.1 1016.8,292.2 1023.6,220.5 1030.4,271.7 1037.2,289.6 1044,285.4 1050.8,312.7 1057.6,300.7 1064.4,275.1 1071.2,322.9 1078,258.1 1084.8,246.1 1091.6,307.6 1098.4,307.6 1105.2,298.2 1112,271.7 1118.8,274.3 1125.7,324.3 1132.5,321.2 1139.3,278.5 1146.1,275.1 1152.9,265.7 1159.7,340.9 1166.5,306.7 1173.3,324.6 1180.1,264.9 1186.9,266.6 1193.7,301.6 1200.5,335.7 1207.3,305.9 1214.1,280.2 1220.9,300.7 1227.7,300.7 1234.6,261.5 1241.4,266.6 1248.2,247 1255,268.3 1261.8,305.9 1268.6,271.7 1275.4,289.6 1282.2,332.3 1289,299 1295.8,321.2 1302.6,287.9" fill="none" stroke="#808080" stroke-width="2.6" stroke-linejoin="round" />
<circle cx="111.5" cy="181.2" r="7.7" fill="#7f7f7f"/>
<circle cx="118.3" cy="261.5" r="7.7" fill="#7f7f7f"/>
<circle cx="125.1" cy="392.9" r="7.7" fill="#7f7f7f"/>
<circle cx="131.9" cy="418.5" r="7.7" fill="#7f7f7f"/>
<circle cx="138.7" cy="247.8" r="7.7" fill="#7f7f7f"/>
<circle cx="145.5" cy="151.3" r="7.7" fill="#7f7f7f"/>
<circle cx="152.3" cy="263.2" r="7.7" fill="#7f7f7f"/>
<circle cx="159.1" cy="399.8" r="7.7" fill="#7f7f7f"/>
<circle cx="166.0" cy="380.1" r="7.7" fill="#7f7f7f"/>
<circle cx="172.8" cy="203.4" r="7.7" fill="#7f7f7f"/>
<circle cx="179.6" cy="163.3" r="7.7" fill="#7f7f7f"/>
<circle cx="186.4" cy="269.1" r="7.7" fill="#7f7f7f"/>
<circle cx="193.2" cy="413.4" r="7.7" fill="#7f7f7f"/>
<circle cx="200.0" cy="345.1" r="7.7" fill="#7f7f7f"/>
<circle cx="206.8" cy="205.1" r="7.7" fill="#7f7f7f"/>
<circle cx="213.6" cy="200.0" r="7.7" fill="#7f7f7f"/>
<circle cx="220.4" cy="303.3" r="7.7" fill="#7f7f7f"/>
<circle cx="227.2" cy="403.2" r="7.7" fill="#7f7f7f"/>
<circle cx="234.0" cy="376.7" r="7.7" fill="#7f7f7f"/>
<circle cx="240.8" cy="248.7" r="7.7" fill="#7f7f7f"/>
<circle cx="247.6" cy="190.6" r="7.7" fill="#7f7f7f"/>
<circle cx="254.4" cy="282.0" r="7.7" fill="#7f7f7f"/>
<circle cx="261.2" cy="413.4" r="7.7" fill="#7f7f7f"/>
<circle cx="268.0" cy="396.3" r="7.7" fill="#7f7f7f"/>
<circle cx="274.9" cy="229.0" r="7.7" fill="#7f7f7f"/>
<circle cx="281.7" cy="194.0" r="7.7" fill="#7f7f7f"/>
<circle cx="288.5" cy="288.8" r="7.7" fill="#7f7f7f"/>
<circle cx="295.3" cy="410.0" r="7.7" fill="#7f7f7f"/>
<circle cx="302.1" cy="346.8" r="7.7" fill="#7f7f7f"/>
<circle cx="308.9" cy="222.2" r="7.7" fill="#7f7f7f"/>
<circle cx="315.7" cy="188.9" r="7.7" fill="#7f7f7f"/>
<circle cx="322.5" cy="333.2" r="7.7" fill="#7f7f7f"/>
<circle cx="329.3" cy="418.5" r="7.7" fill="#7f7f7f"/>
<circle cx="336.1" cy="276.0" r="7.7" fill="#7f7f7f"/>
<circle cx="342.9" cy="209.4" r="7.7" fill="#7f7f7f"/>
<circle cx="349.7" cy="200.0" r="7.7" fill="#7f7f7f"/>
<circle cx="356.5" cy="302.4" r="7.7" fill="#7f7f7f"/>
<circle cx="363.3" cy="381.0" r="7.7" fill="#7f7f7f"/>
<circle cx="370.1" cy="320.4" r="7.7" fill="#7f7f7f"/>
<circle cx="376.9" cy="227.3" r="7.7" fill="#7f7f7f"/>
<circle cx="383.8" cy="235.0" r="7.7" fill="#7f7f7f"/>
<circle cx="390.6" cy="315.2" r="7.7" fill="#7f7f7f"/>
<circle cx="397.4" cy="385.3" r="7.7" fill="#7f7f7f"/>
<circle cx="404.2" cy="290.5" r="7.7" fill="#7f7f7f"/>
<circle cx="411.0" cy="193.2" r="7.7" fill="#7f7f7f"/>
<circle cx="417.8" cy="212.8" r="7.7" fill="#7f7f7f"/>
<circle cx="424.6" cy="324.6" r="7.7" fill="#7f7f7f"/>
<circle cx="431.4" cy="395.5" r="7.7" fill="#7f7f7f"/>
<circle cx="438.2" cy="334.9" r="7.7" fill="#7f7f7f"/>
<circle cx="445.0" cy="188.9" r="7.7" fill="#7f7f7f"/>
<circle cx="451.8" cy="275.1" r="7.7" fill="#7f7f7f"/>
<circle cx="458.6" cy="350.2" r="7.7" fill="#7f7f7f"/>
<circle cx="465.4" cy="352.0" r="7.7" fill="#7f7f7f"/>
<circle cx="472.2" cy="335.7" r="7.7" fill="#7f7f7f"/>
<circle cx="479.0" cy="194.9" r="7.7" fill="#7f7f7f"/>
<circle cx="485.9" cy="222.2" r="7.7" fill="#7f7f7f"/>
<circle cx="492.7" cy="385.3" r="7.7" fill="#7f7f7f"/>
<circle cx="499.5" cy="348.5" r="7.7" fill="#7f7f7f"/>
<circle cx="506.3" cy="229.0" r="7.7" fill="#7f7f7f"/>
<circle cx="513.1" cy="232.4" r="7.7" fill="#7f7f7f"/>
<circle cx="519.9" cy="347.7" r="7.7" fill="#7f7f7f"/>
<circle cx="526.7" cy="373.3" r="7.7" fill="#7f7f7f"/>
<circle cx="533.5" cy="355.4" r="7.7" fill="#7f7f7f"/>
<circle cx="540.3" cy="309.3" r="7.7" fill="#7f7f7f"/>
<circle cx="547.1" cy="192.3" r="7.7" fill="#7f7f7f"/>
<circle cx="553.9" cy="276.8" r="7.7" fill="#7f7f7f"/>
<circle cx="560.7" cy="355.4" r="7.7" fill="#7f7f7f"/>
<circle cx="567.5" cy="312.7" r="7.7" fill="#7f7f7f"/>
<circle cx="574.3" cy="215.4" r="7.7" fill="#7f7f7f"/>
<circle cx="581.1" cy="229.0" r="7.7" fill="#7f7f7f"/>
<circle cx="587.9" cy="235.9" r="7.7" fill="#7f7f7f"/>
<circle cx="594.8" cy="384.4" r="7.7" fill="#7f7f7f"/>
<circle cx="601.6" cy="372.4" r="7.7" fill="#7f7f7f"/>
<circle cx="608.4" cy="247.0" r="7.7" fill="#7f7f7f"/>
<circle cx="615.2" cy="232.4" r="7.7" fill="#7f7f7f"/>
<circle cx="622.0" cy="288.8" r="7.7" fill="#7f7f7f"/>
<circle cx="628.8" cy="364.8" r="7.7" fill="#7f7f7f"/>
<circle cx="635.6" cy="331.5" r="7.7" fill="#7f7f7f"/>
<circle cx="642.4" cy="265.7" r="7.7" fill="#7f7f7f"/>
<circle cx="649.2" cy="231.6" r="7.7" fill="#7f7f7f"/>
<circle cx="656.0" cy="293.9" r="7.7" fill="#7f7f7f"/>
<circle cx="662.8" cy="340.9" r="7.7" fill="#7f7f7f"/>
<circle cx="669.6" cy="300.7" r="7.7" fill="#7f7f7f"/>
<circle cx="676.4" cy="220.5" r="7.7" fill="#7f7f7f"/>
<circle cx="683.2" cy="247.8" r="7.7" fill="#7f7f7f"/>
<circle cx="690.0" cy="328.1" r="7.7" fill="#7f7f7f"/>
<circle cx="696.9" cy="372.4" r="7.7" fill="#7f7f7f"/>
<circle cx="703.7" cy="358.8" r="7.7" fill="#7f7f7f"/>
<circle cx="710.5" cy="270.0" r="7.7" fill="#7f7f7f"/>
<circle cx="717.3" cy="259.8" r="7.7" fill="#7f7f7f"/>
<circle cx="724.1" cy="254.6" r="7.7" fill="#7f7f7f"/>
<circle cx="730.9" cy="378.4" r="7.7" fill="#7f7f7f"/>
<circle cx="737.7" cy="357.1" r="7.7" fill="#7f7f7f"/>
<circle cx="744.5" cy="223.1" r="7.7" fill="#7f7f7f"/>
<circle cx="751.3" cy="293.1" r="7.7" fill="#7f7f7f"/>
<circle cx="758.1" cy="333.2" r="7.7" fill="#7f7f7f"/>
<circle cx="764.9" cy="347.7" r="7.7" fill="#7f7f7f"/>
<circle cx="771.7" cy="303.3" r="7.7" fill="#7f7f7f"/>
<circle cx="778.5" cy="278.5" r="7.7" fill="#7f7f7f"/>
<circle cx="785.3" cy="218.8" r="7.7" fill="#7f7f7f"/>
<circle cx="792.1" cy="279.4" r="7.7" fill="#7f7f7f"/>
<circle cx="798.9" cy="336.6" r="7.7" fill="#7f7f7f"/>
<circle cx="805.8" cy="317.8" r="7.7" fill="#7f7f7f"/>
<circle cx="812.6" cy="247.0" r="7.7" fill="#7f7f7f"/>
<circle cx="819.4" cy="239.3" r="7.7" fill="#7f7f7f"/>
<circle cx="826.2" cy="261.5" r="7.7" fill="#7f7f7f"/>
<circle cx="833.0" cy="328.1" r="7.7" fill="#7f7f7f"/>
<circle cx="839.8" cy="322.9" r="7.7" fill="#7f7f7f"/>
<circle cx="846.6" cy="227.3" r="7.7" fill="#7f7f7f"/>
<circle cx="853.4" cy="318.7" r="7.7" fill="#7f7f7f"/>
<circle cx="860.2" cy="311.0" r="7.7" fill="#7f7f7f"/>
<circle cx="867.0" cy="350.2" r="7.7" fill="#7f7f7f"/>
<circle cx="873.8" cy="270.0" r="7.7" fill="#7f7f7f"/>
<circle cx="880.6" cy="263.2" r="7.7" fill="#7f7f7f"/>
<circle cx="887.4" cy="257.2" r="7.7" fill="#7f7f7f"/>
<circle cx="894.2" cy="309.3" r="7.7" fill="#7f7f7f"/>
<circle cx="901.0" cy="351.1" r="7.7" fill="#7f7f7f"/>
<circle cx="907.8" cy="291.3" r="7.7" fill="#7f7f7f"/>
<circle cx="914.7" cy="241.8" r="7.7" fill="#7f7f7f"/>
<circle cx="921.5" cy="289.6" r="7.7" fill="#7f7f7f"/>
<circle cx="928.3" cy="327.2" r="7.7" fill="#7f7f7f"/>
<circle cx="935.1" cy="311.0" r="7.7" fill="#7f7f7f"/>
<circle cx="941.9" cy="300.7" r="7.7" fill="#7f7f7f"/>
<circle cx="948.7" cy="235.0" r="7.7" fill="#7f7f7f"/>
<circle cx="955.5" cy="259.8" r="7.7" fill="#7f7f7f"/>
<circle cx="962.3" cy="347.7" r="7.7" fill="#7f7f7f"/>
<circle cx="969.1" cy="302.4" r="7.7" fill="#7f7f7f"/>
<circle cx="975.9" cy="319.5" r="7.7" fill="#7f7f7f"/>
<circle cx="982.7" cy="326.3" r="7.7" fill="#7f7f7f"/>
<circle cx="989.5" cy="291.3" r="7.7" fill="#7f7f7f"/>
<circle cx="996.3" cy="302.4" r="7.7" fill="#7f7f7f"/>
<circle cx="1003.1" cy="282.0" r="7.7" fill="#7f7f7f"/>
<circle cx="1009.9" cy="246.1" r="7.7" fill="#7f7f7f"/>
<circle cx="1016.8" cy="292.2" r="7.7" fill="#7f7f7f"/>
<circle cx="1023.6" cy="220.5" r="7.7" fill="#7f7f7f"/>
<circle cx="1030.4" cy="271.7" r="7.7" fill="#7f7f7f"/>
<circle cx="1037.2" cy="289.6" r="7.7" fill="#7f7f7f"/>
<circle cx="1044.0" cy="285.4" r="7.7" fill="#7f7f7f"/>
<circle cx="1050.8" cy="312.7" r="7.7" fill="#7f7f7f"/>
<circle cx="1057.6" cy="300.7" r="7.7" fill="#7f7f7f"/>
<circle cx="1064.4" cy="275.1" r="7.7" fill="#7f7f7f"/>
<circle cx="1071.2" cy="322.9" r="7.7" fill="#7f7f7f"/>
<circle cx="1078.0" cy="258.1" r="7.7" fill="#7f7f7f"/>
<circle cx="1084.8" cy="246.1" r="7.7" fill="#7f7f7f"/>
<circle cx="1091.6" cy="307.6" r="7.7" fill="#7f7f7f"/>
<circle cx="1098.4" cy="307.6" r="7.7" fill="#7f7f7f"/>
<circle cx="1105.2" cy="298.2" r="7.7" fill="#7f7f7f"/>
<circle cx="1112.0" cy="271.7" r="7.7" fill="#7f7f7f"/>
<circle cx="1118.8" cy="274.3" r="7.7" fill="#7f7f7f"/>
<circle cx="1125.7" cy="324.3" r="7.7" fill="#7f7f7f"/>
<circle cx="1132.5" cy="321.2" r="7.7" fill="#7f7f7f"/>
<circle cx="1139.3" cy="278.5" r="7.7" fill="#7f7f7f"/>
<circle cx="1146.1" cy="275.1" r="7.7" fill="#7f7f7f"/>
<circle cx="1152.9" cy="265.7" r="7.7" fill="#7f7f7f"/>
<circle cx="1159.7" cy="340.9" r="7.7" fill="#7f7f7f"/>
<circle cx="1166.5" cy="306.7" r="7.7" fill="#7f7f7f"/>
<circle cx="1173.3" cy="324.6" r="7.7" fill="#7f7f7f"/>
<circle cx="1180.1" cy="264.9" r="7.7" fill="#7f7f7f"/>
<circle cx="1186.9" cy="266.6" r="7.7" fill="#7f7f7f"/>
<circle cx="1193.7" cy="301.6" r="7.7" fill="#7f7f7f"/>
<circle cx="1200.5" cy="335.7" r="7.7" fill="#7f7f7f"/>
<circle cx="1207.3" cy="305.9" r="7.7" fill="#7f7f7f"/>
<circle cx="1214.1" cy="280.2" r="7.7" fill="#7f7f7f"/>
<circle cx="1220.9" cy="300.7" r="7.7" fill="#7f7f7f"/>
<circle cx="1227.7" cy="300.7" r="7.7" fill="#7f7f7f"/>
<circle cx="1234.6" cy="261.5" r="7.7" fill="#7f7f7f"/>
<circle cx="1241.4" cy="266.6" r="7.7" fill="#7f7f7f"/>
<circle cx="1248.2" cy="247.0" r="7.7" fill="#7f7f7f"/>
<circle cx="1255.0" cy="268.3" r="7.7" fill="#7f7f7f"/>
<circle cx="1261.8" cy="305.9" r="7.7" fill="#7f7f7f"/>
<circle cx="1268.6" cy="271.7" r="7.7" fill="#7f7f7f"/>
<circle cx="1275.4" cy="289.6" r="7.7" fill="#7f7f7f"/>
<circle cx="1282.2" cy="332.3" r="7.7" fill="#7f7f7f"/>
<circle cx="1289.0" cy="299.0" r="7.7" fill="#7f7f7f"/>
<circle cx="1295.8" cy="321.2" r="7.7" fill="#7f7f7f"/>
<circle cx="1302.6" cy="287.9" r="7.7" fill="#7f7f7f"/>
<path d="M111.50,145.98 L114.90,172.12 L118.31,245.18 L121.71,336.01 L125.11,408.82 L128.52,435.33 L131.92,405.70 L135.32,332.21 L138.73,244.16 L142.13,176.19 L145.53,154.68 L148.94,187.50 L152.34,261.14 L155.74,346.29 L159.14,409.47 L162.55,426.20 L165.95,390.49 L169.35,316.95 L172.76,234.81 L176.16,176.36 L179.56,164.18 L182.97,202.50 L186.37,275.70 L189.77,354.72 L193.18,408.54 L196.58,416.39 L199.98,375.74 L203.39,303.10 L206.79,227.28 L210.19,178.01 L213.60,174.26 L217.00,216.96 L220.40,288.84 L223.81,361.40 L227.21,406.22 L230.61,406.09 L234.02,361.59 L237.42,290.68 L240.82,221.43 L244.22,180.95 L247.63,184.73 L251.03,230.77 L254.43,300.54 L257.84,366.43 L261.24,402.70 L264.64,395.49 L268.05,348.15 L271.45,279.70 L274.85,217.18 L278.26,185.00 L281.66,195.41 L285.06,243.82 L288.47,310.81 L291.87,369.95 L295.27,398.16 L298.68,384.77 L302.08,335.52 L305.48,270.12 L308.89,214.38 L312.29,189.99 L315.69,206.14 L319.10,256.02 L322.50,319.69 L325.90,372.07 L329.30,392.77 L332.71,374.07 L336.11,323.77 L339.51,261.93 L342.92,212.90 L346.32,195.74 L349.72,216.77 L353.13,267.31 L356.53,327.22 L359.93,372.92 L363.34,386.70 L366.74,363.54 L370.14,312.94 L373.55,255.06 L376.95,212.63 L380.35,202.09 L383.76,227.18 L387.16,277.66 L390.56,333.45 L393.97,372.65 L397.37,380.11 L400.77,353.28 L404.18,303.08 L407.58,249.45 L410.98,213.42 L414.38,208.89 L417.79,237.26 L421.19,287.02 L424.59,338.45 L428.00,371.37 L431.40,373.13 L434.80,343.40 L438.21,294.21 L441.61,245.04 L445.01,215.15 L448.42,216.01 L451.82,246.91 L455.22,295.41 L458.63,342.29 L462.03,369.23 L465.43,365.91 L468.84,333.99 L472.24,286.32 L475.64,241.74 L479.05,217.68 L482.45,223.31 L485.85,256.07 L489.26,302.81 L492.66,345.06 L496.06,366.34 L499.46,358.56 L502.87,325.11 L506.27,279.40 L509.67,239.48 L513.08,220.89 L516.48,230.68 L519.88,264.66 L523.29,309.24 L526.69,346.84 L530.09,362.83 L533.50,351.19 L536.90,316.82 L540.30,273.45 L543.71,238.16 L547.11,224.67 L550.51,238.01 L553.92,272.64 L557.32,314.73 L560.72,347.73 L564.13,358.81 L567.53,343.90 L570.93,309.16 L574.34,268.41 L577.74,237.69 L581.14,228.90 L584.54,245.23 L587.95,279.98 L591.35,319.32 L594.75,347.80 L598.16,354.39 L601.56,336.78 L604.96,302.15 L608.37,264.26 L611.77,237.99 L615.17,233.48 L618.58,252.24 L621.98,286.65 L625.38,323.04 L628.79,347.15 L632.19,349.68 L635.59,329.90 L639.00,295.82 L642.40,260.95 L645.80,238.96 L649.21,238.30 L652.61,258.98 L656.01,292.64 L659.42,325.96 L662.82,345.88 L666.22,344.77 L669.62,323.32 L673.03,290.16 L676.43,258.42 L679.83,240.51 L683.24,243.28 L686.64,265.39 L690.04,297.96 L693.45,328.11 L696.85,344.06 L700.25,339.74 L703.66,317.08 L707.06,285.18 L710.46,256.62 L713.87,242.57 L717.27,248.34 L720.67,271.44 L724.08,302.61 L727.48,329.57 L730.88,341.79 L734.29,334.68 L737.69,311.24 L741.09,280.85 L744.50,255.50 L747.90,245.04 L751.30,253.39 L754.70,277.07 L758.11,306.61 L761.51,330.38 L764.91,339.14 L768.32,329.64 L771.72,305.82 L775.12,277.18 L778.53,254.98 L781.93,247.84 L785.33,258.39 L788.74,282.27 L792.14,309.98 L795.54,330.62 L798.95,336.20 L802.35,324.71 L805.75,300.85 L809.16,274.12 L812.56,255.01 L815.96,250.91 L819.37,263.26 L822.77,287.01 L826.17,312.74 L829.58,330.34 L832.98,333.02 L836.38,319.91 L839.78,296.33 L843.19,271.64 L846.59,255.52 L849.99,254.17 L853.40,267.96 L856.80,291.30 L860.20,314.93 L863.61,329.61 L867.01,329.69 L870.41,315.31 L873.82,292.28 L877.22,269.72 L880.62,256.45 L884.03,257.57 L887.43,272.45 L890.83,295.11 L894.24,316.59 L897.64,328.49 L901.04,326.26 L904.45,310.94 L907.85,288.70 L911.25,268.32 L914.66,257.75 L918.06,261.03 L921.46,276.69 L924.86,298.47 L928.27,317.75 L931.67,327.03 L935.07,322.78 L938.48,306.83 L941.88,285.57 L945.28,267.38 L948.69,259.35 L952.09,264.51 L955.49,280.66 L958.90,301.37 L962.30,318.46 L965.70,325.29 L969.11,319.31 L972.51,303.01 L975.91,282.89 L979.32,266.89 L982.72,261.21 L986.12,267.96 L989.53,284.34 L992.93,303.83 L996.33,318.76 L999.74,323.34 L1003.14,315.89 L1006.54,299.48 L1009.94,280.64 L1013.35,266.78 L1016.75,263.26 L1020.15,271.34 L1023.56,287.71 L1026.96,305.87 L1030.36,318.69 L1033.77,321.20 L1037.17,312.56 L1040.57,296.27 L1043.98,278.81 L1047.38,267.02 L1050.78,265.46 L1054.19,274.61 L1057.59,290.76 L1060.99,307.51 L1064.40,318.29 L1067.80,318.95 L1071.20,309.35 L1074.61,293.37 L1078.01,277.36 L1081.41,267.57 L1084.82,267.76 L1088.22,277.75 L1091.62,293.50 L1095.02,308.78 L1098.43,317.61 L1101.83,316.61 L1105.23,306.29 L1108.64,290.80 L1112.04,276.27 L1115.44,268.37 L1118.85,270.13 L1122.25,280.73 L1125.65,295.91 L1129.06,309.69 L1132.46,316.68 L1135.86,314.23 L1139.27,303.40 L1142.67,288.54 L1146.07,275.52 L1149.48,269.41 L1152.88,272.52 L1156.28,283.52 L1159.69,298.02 L1163.09,310.29 L1166.49,315.55 L1169.90,311.84 L1173.30,300.70 L1176.70,286.60 L1180.10,275.08 L1183.51,270.62 L1186.91,274.90 L1190.31,286.12 L1193.72,299.81 L1197.12,310.59 L1200.52,314.26 L1203.93,309.47 L1207.33,298.21 L1210.73,284.95 L1214.14,274.91 L1217.54,271.99 L1220.94,277.24 L1224.35,288.51 L1227.75,301.31 L1231.15,310.62 L1234.56,312.83 L1237.96,307.16 L1241.36,295.92 L1244.77,283.59 L1248.17,275.00 L1251.57,273.47 L1254.98,279.52 L1258.38,290.68 L1261.78,302.54 L1265.18,310.42 L1268.59,311.31 L1271.99,304.92 L1275.39,293.86 L1278.80,282.50 L1282.20,275.30 L1285.60,275.03 L1289.01,281.71 L1292.41,292.64 L1295.81,303.49 L1299.22,310.02 L1302.62,309.72" fill="none" stroke="#ff0000" stroke-width="7" stroke-linejoin="bevel"/>
<polyline points="126.9,1053.8 133.7,1046.1 140.5,841.2 147.3,825.9 154.1,963.3 160.9,1036.7 167.7,1000 174.5,831 181.4,849.8 188.2,965.9 195,1039.3 201.8,977.8 208.6,866.8 215.4,837.8 222.2,986.3 229,1041.8 235.8,942 242.6,811.3 249.4,853.2 256.2,959 263,1067.4 269.8,966.7 276.6,826.7 283.4,831 290.3,926.6 297.1,1019.6 303.9,991.5 310.7,859.1 317.5,853.2 324.3,945.4 331.1,1059.8 337.9,924.9 344.7,843.3 351.5,847.2 358.3,956.5 365.1,1044.4 371.9,940.2 378.7,828.4 385.5,848.9 392.3,949.6 399.2,1060.6 406,953.9 412.8,850.6 419.6,828.4 426.4,961.6 433.2,1053.8 440,967.6 446.8,868.5 453.6,813 460.4,944.5 467.2,1037.6 474,942.8 480.8,828.4 487.6,832.7 494.4,977 501.3,1029.9 508.1,958.2 514.9,848.9 521.7,867.7 528.5,956.5 535.3,1043.5 542.1,929.1 548.9,855.7 555.7,852.8 562.5,960.7 569.3,1026.8 576.1,965.9 582.9,852.3 589.7,857.4 596.5,971 603.3,1046.1 610.2,971.8 617,838.7 623.8,822.4 630.6,933.4 637.4,1046.1 644.2,938.5 651,842.1 657.8,846.3 664.6,942.8 671.4,1051.2 678.2,955.6 685,833.5 691.8,861.7 698.6,961.6 705.4,1031.6 712.3,940.2 719.1,819.9 725.9,845.5 732.7,947.9 739.5,1024.8 746.3,931.7 753.1,854.9 759.9,842.1 766.7,944.5 773.5,1017.1 780.3,971 787.1,862.6 793.9,862.6 800.7,961.6 807.5,1030.7 814.3,945.4 821.2,881.3 828,838.7 834.8,955.6 841.6,1040.1 848.4,939.4 855.2,847.2 862,880.5 868.8,971 875.6,1010.2 882.4,999.2 889.2,847.2 896,869.4 902.8,994 909.6,1028.2 916.4,1007.7 923.2,858.3 930.1,826.7 936.9,978.7 943.7,1050.4 950.5,955.6 957.3,850.6 964.1,869.4 970.9,949.6 977.7,999.2 984.5,938.5 991.3,855.7 998.1,838.7 1004.9,955.6 1011.7,1032.1 1018.5,947.9 1025.3,836.1 1032.2,882.2 1039,973.5 1045.8,1027.3 1052.6,950.5 1059.4,865.1 1066.2,859.1 1073,956.5 1079.8,1015.4 1086.6,950.5 1093.4,863.4 1100.2,850.6 1107,990.6 1113.8,1009.4 1120.6,942.8 1127.4,829.3 1134.2,870.2 1141.1,971 1147.9,1009.4 1154.7,947.9 1161.5,848.1 1168.3,859.1 1175.1,959 1181.9,1052.9 1188.7,909.5 1195.5,835.2 1202.3,844.6 1209.1,960.7 1215.9,1018.8 1222.7,974.9 1229.5,869.4 1236.3,872.8 1243.1,959.9 1250,1029.9 1256.8,901.8 1263.6,850.6 1270.4,888.2 1277.2,976.1 1284,1029.9 1290.8,939.4 1297.6,849.8 1304.4,854 1311.2,945.4 1318,1024.8" fill="none" stroke="#808080" stroke-width="2.6" stroke-linejoin="round" />
<circle cx="126.9" cy="1053.8" r="7.7" fill="#7f7f7f"/>
<circle cx="133.7" cy="1046.1" r="7.7" fill="#7f7f7f"/>
<circle cx="140.5" cy="841.2" r="7.7" fill="#7f7f7f"/>
<circle cx="147.3" cy="825.9" r="7.7" fill="#7f7f7f"/>
<circle cx="154.1" cy="963.3" r="7.7" fill="#7f7f7f"/>
<circle cx="160.9" cy="1036.7" r="7.7" fill="#7f7f7f"/>
<circle cx="167.7" cy="1000.0" r="7.7" fill="#7f7f7f"/>
<circle cx="174.5" cy="831.0" r="7.7" fill="#7f7f7f"/>
<circle cx="181.4" cy="849.8" r="7.7" fill="#7f7f7f"/>
<circle cx="188.2" cy="965.9" r="7.7" fill="#7f7f7f"/>
<circle cx="195.0" cy="1039.3" r="7.7" fill="#7f7f7f"/>
<circle cx="201.8" cy="977.8" r="7.7" fill="#7f7f7f"/>
<circle cx="208.6" cy="866.8" r="7.7" fill="#7f7f7f"/>
<circle cx="215.4" cy="837.8" r="7.7" fill="#7f7f7f"/>
<circle cx="222.2" cy="986.3" r="7.7" fill="#7f7f7f"/>
<circle cx="229.0" cy="1041.8" r="7.7" fill="#7f7f7f"/>
<circle cx="235.8" cy="942.0" r="7.7" fill="#7f7f7f"/>
<circle cx="242.6" cy="811.3" r="7.7" fill="#7f7f7f"/>
<circle cx="249.4" cy="853.2" r="7.7" fill="#7f7f7f"/>
<circle cx="256.2" cy="959.0" r="7.7" fill="#7f7f7f"/>
<circle cx="263.0" cy="1067.4" r="7.7" fill="#7f7f7f"/>
<circle cx="269.8" cy="966.7" r="7.7" fill="#7f7f7f"/>
<circle cx="276.6" cy="826.7" r="7.7" fill="#7f7f7f"/>
<circle cx="283.4" cy="831.0" r="7.7" fill="#7f7f7f"/>
<circle cx="290.3" cy="926.6" r="7.7" fill="#7f7f7f"/>
<circle cx="297.1" cy="1019.6" r="7.7" fill="#7f7f7f"/>
<circle cx="303.9" cy="991.5" r="7.7" fill="#7f7f7f"/>
<circle cx="310.7" cy="859.1" r="7.7" fill="#7f7f7f"/>
<circle cx="317.5" cy="853.2" r="7.7" fill="#7f7f7f"/>
<circle cx="324.3" cy="945.4" r="7.7" fill="#7f7f7f"/>
<circle cx="331.1" cy="1059.8" r="7.7" fill="#7f7f7f"/>
<circle cx="337.9" cy="924.9" r="7.7" fill="#7f7f7f"/>
<circle cx="344.7" cy="843.3" r="7.7" fill="#7f7f7f"/>
<circle cx="351.5" cy="847.2" r="7.7" fill="#7f7f7f"/>
<circle cx="358.3" cy="956.5" r="7.7" fill="#7f7f7f"/>
<circle cx="365.1" cy="1044.4" r="7.7" fill="#7f7f7f"/>
<circle cx="371.9" cy="940.2" r="7.7" fill="#7f7f7f"/>
<circle cx="378.7" cy="828.4" r="7.7" fill="#7f7f7f"/>
<circle cx="385.5" cy="848.9" r="7.7" fill="#7f7f7f"/>
<circle cx="392.3" cy="949.6" r="7.7" fill="#7f7f7f"/>
<circle cx="399.2" cy="1060.6" r="7.7" fill="#7f7f7f"/>
<circle cx="406.0" cy="953.9" r="7.7" fill="#7f7f7f"/>
<circle cx="412.8" cy="850.6" r="7.7" fill="#7f7f7f"/>
<circle cx="419.6" cy="828.4" r="7.7" fill="#7f7f7f"/>
<circle cx="426.4" cy="961.6" r="7.7" fill="#7f7f7f"/>
<circle cx="433.2" cy="1053.8" r="7.7" fill="#7f7f7f"/>
<circle cx="440.0" cy="967.6" r="7.7" fill="#7f7f7f"/>
<circle cx="446.8" cy="868.5" r="7.7" fill="#7f7f7f"/>
<circle cx="453.6" cy="813.0" r="7.7" fill="#7f7f7f"/>
<circle cx="460.4" cy="944.5" r="7.7" fill="#7f7f7f"/>
<circle cx="467.2" cy="1037.6" r="7.7" fill="#7f7f7f"/>
<circle cx="474.0" cy="942.8" r="7.7" fill="#7f7f7f"/>
<circle cx="480.8" cy="828.4" r="7.7" fill="#7f7f7f"/>
<circle cx="487.6" cy="832.7" r="7.7" fill="#7f7f7f"/>
<circle cx="494.4" cy="977.0" r="7.7" fill="#7f7f7f"/>
<circle cx="501.3" cy="1029.9" r="7.7" fill="#7f7f7f"/>
<circle cx="508.1" cy="958.2" r="7.7" fill="#7f7f7f"/>
<circle cx="514.9" cy="848.9" r="7.7" fill="#7f7f7f"/>
<circle cx="521.7" cy="867.7" r="7.7" fill="#7f7f7f"/>
<circle cx="528.5" cy="956.5" r="7.7" fill="#7f7f7f"/>
<circle cx="535.3" cy="1043.5" r="7.7" fill="#7f7f7f"/>
<circle cx="542.1" cy="929.1" r="7.7" fill="#7f7f7f"/>
<circle cx="548.9" cy="855.7" r="7.7" fill="#7f7f7f"/>
<circle cx="555.7" cy="852.8" r="7.7" fill="#7f7f7f"/>
<circle cx="562.5" cy="960.7" r="7.7" fill="#7f7f7f"/>
<circle cx="569.3" cy="1026.8" r="7.7" fill="#7f7f7f"/>
<circle cx="576.1" cy="965.9" r="7.7" fill="#7f7f7f"/>
<circle cx="582.9" cy="852.3" r="7.7" fill="#7f7f7f"/>
<circle cx="589.7" cy="857.4" r="7.7" fill="#7f7f7f"/>
<circle cx="596.5" cy="971.0" r="7.7" fill="#7f7f7f"/>
<circle cx="603.3" cy="1046.1" r="7.7" fill="#7f7f7f"/>
<circle cx="610.2" cy="971.8" r="7.7" fill="#7f7f7f"/>
<circle cx="617.0" cy="838.7" r="7.7" fill="#7f7f7f"/>
<circle cx="623.8" cy="822.4" r="7.7" fill="#7f7f7f"/>
<circle cx="630.6" cy="933.4" r="7.7" fill="#7f7f7f"/>
<circle cx="637.4" cy="1046.1" r="7.7" fill="#7f7f7f"/>
<circle cx="644.2" cy="938.5" r="7.7" fill="#7f7f7f"/>
<circle cx="651.0" cy="842.1" r="7.7" fill="#7f7f7f"/>
<circle cx="657.8" cy="846.3" r="7.7" fill="#7f7f7f"/>
<circle cx="664.6" cy="942.8" r="7.7" fill="#7f7f7f"/>
<circle cx="671.4" cy="1051.2" r="7.7" fill="#7f7f7f"/>
<circle cx="678.2" cy="955.6" r="7.7" fill="#7f7f7f"/>
<circle cx="685.0" cy="833.5" r="7.7" fill="#7f7f7f"/>
<circle cx="691.8" cy="861.7" r="7.7" fill="#7f7f7f"/>
<circle cx="698.6" cy="961.6" r="7.7" fill="#7f7f7f"/>
<circle cx="705.4" cy="1031.6" r="7.7" fill="#7f7f7f"/>
<circle cx="712.3" cy="940.2" r="7.7" fill="#7f7f7f"/>
<circle cx="719.1" cy="819.9" r="7.7" fill="#7f7f7f"/>
<circle cx="725.9" cy="845.5" r="7.7" fill="#7f7f7f"/>
<circle cx="732.7" cy="947.9" r="7.7" fill="#7f7f7f"/>
<circle cx="739.5" cy="1024.8" r="7.7" fill="#7f7f7f"/>
<circle cx="746.3" cy="931.7" r="7.7" fill="#7f7f7f"/>
<circle cx="753.1" cy="854.9" r="7.7" fill="#7f7f7f"/>
<circle cx="759.9" cy="842.1" r="7.7" fill="#7f7f7f"/>
<circle cx="766.7" cy="944.5" r="7.7" fill="#7f7f7f"/>
<circle cx="773.5" cy="1017.1" r="7.7" fill="#7f7f7f"/>
<circle cx="780.3" cy="971.0" r="7.7" fill="#7f7f7f"/>
<circle cx="787.1" cy="862.6" r="7.7" fill="#7f7f7f"/>
<circle cx="793.9" cy="862.6" r="7.7" fill="#7f7f7f"/>
<circle cx="800.7" cy="961.6" r="7.7" fill="#7f7f7f"/>
<circle cx="807.5" cy="1030.7" r="7.7" fill="#7f7f7f"/>
<circle cx="814.3" cy="945.4" r="7.7" fill="#7f7f7f"/>
<circle cx="821.2" cy="881.3" r="7.7" fill="#7f7f7f"/>
<circle cx="828.0" cy="838.7" r="7.7" fill="#7f7f7f"/>
<circle cx="834.8" cy="955.6" r="7.7" fill="#7f7f7f"/>
<circle cx="841.6" cy="1040.1" r="7.7" fill="#7f7f7f"/>
<circle cx="848.4" cy="939.4" r="7.7" fill="#7f7f7f"/>
<circle cx="855.2" cy="847.2" r="7.7" fill="#7f7f7f"/>
<circle cx="862.0" cy="880.5" r="7.7" fill="#7f7f7f"/>
<circle cx="868.8" cy="971.0" r="7.7" fill="#7f7f7f"/>
<circle cx="875.6" cy="1010.2" r="7.7" fill="#7f7f7f"/>
<circle cx="882.4" cy="999.2" r="7.7" fill="#7f7f7f"/>
<circle cx="889.2" cy="847.2" r="7.7" fill="#7f7f7f"/>
<circle cx="896.0" cy="869.4" r="7.7" fill="#7f7f7f"/>
<circle cx="902.8" cy="994.0" r="7.7" fill="#7f7f7f"/>
<circle cx="909.6" cy="1028.2" r="7.7" fill="#7f7f7f"/>
<circle cx="916.4" cy="1007.7" r="7.7" fill="#7f7f7f"/>
<circle cx="923.2" cy="858.3" r="7.7" fill="#7f7f7f"/>
<circle cx="930.1" cy="826.7" r="7.7" fill="#7f7f7f"/>
<circle cx="936.9" cy="978.7" r="7.7" fill="#7f7f7f"/>
<circle cx="943.7" cy="1050.4" r="7.7" fill="#7f7f7f"/>
<circle cx="950.5" cy="955.6" r="7.7" fill="#7f7f7f"/>
<circle cx="957.3" cy="850.6" r="7.7" fill="#7f7f7f"/>
<circle cx="964.1" cy="869.4" r="7.7" fill="#7f7f7f"/>
<circle cx="970.9" cy="949.6" r="7.7" fill="#7f7f7f"/>
<circle cx="977.7" cy="999.2" r="7.7" fill="#7f7f7f"/>
<circle cx="984.5" cy="938.5" r="7.7" fill="#7f7f7f"/>
<circle cx="991.3" cy="855.7" r="7.7" fill="#7f7f7f"/>
<circle cx="998.1" cy="838.7" r="7.7" fill="#7f7f7f"/>
<circle cx="1004.9" cy="955.6" r="7.7" fill="#7f7f7f"/>
<circle cx="1011.7" cy="1032.1" r="7.7" fill="#7f7f7f"/>
<circle cx="1018.5" cy="947.9" r="7.7" fill="#7f7f7f"/>
<circle cx="1025.3" cy="836.1" r="7.7" fill="#7f7f7f"/>
<circle cx="1032.2" cy="882.2" r="7.7" fill="#7f7f7f"/>
<circle cx="1039.0" cy="973.5" r="7.7" fill="#7f7f7f"/>
<circle cx="1045.8" cy="1027.3" r="7.7" fill="#7f7f7f"/>
<circle cx="1052.6" cy="950.5" r="7.7" fill="#7f7f7f"/>
<circle cx="1059.4" cy="865.1" r="7.7" fill="#7f7f7f"/>
<circle cx="1066.2" cy="859.1" r="7.7" fill="#7f7f7f"/>
<circle cx="1073.0" cy="956.5" r="7.7" fill="#7f7f7f"/>
<circle cx="1079.8" cy="1015.4" r="7.7" fill="#7f7f7f"/>
<circle cx="1086.6" cy="950.5" r="7.7" fill="#7f7f7f"/>
<circle cx="1093.4" cy="863.4" r="7.7" fill="#7f7f7f"/>
<circle cx="1100.2" cy="850.6" r="7.7" fill="#7f7f7f"/>
<circle cx="1107.0" cy="990.6" r="7.7" fill="#7f7f7f"/>
<circle cx="1113.8" cy="1009.4" r="7.7" fill="#7f7f7f"/>
<circle cx="1120.6" cy="942.8" r="7.7" fill="#7f7f7f"/>
<circle cx="1127.4" cy="829.3" r="7.7" fill="#7f7f7f"/>
<circle cx="1134.2" cy="870.2" r="7.7" fill="#7f7f7f"/>
<circle cx="1141.1" cy="971.0" r="7.7" fill="#7f7f7f"/>
<circle cx="1147.9" cy="1009.4" r="7.7" fill="#7f7f7f"/>
<circle cx="1154.7" cy="947.9" r="7.7" fill="#7f7f7f"/>
<circle cx="1161.5" cy="848.1" r="7.7" fill="#7f7f7f"/>
<circle cx="1168.3" cy="859.1" r="7.7" fill="#7f7f7f"/>
<circle cx="1175.1" cy="959.0" r="7.7" fill="#7f7f7f"/>
<circle cx="1181.9" cy="1052.9" r="7.7" fill="#7f7f7f"/>
<circle cx="1188.7" cy="909.5" r="7.7" fill="#7f7f7f"/>
<circle cx="1195.5" cy="835.2" r="7.7" fill="#7f7f7f"/>
<circle cx="1202.3" cy="844.6" r="7.7" fill="#7f7f7f"/>
<circle cx="1209.1" cy="960.7" r="7.7" fill="#7f7f7f"/>
<circle cx="1215.9" cy="1018.8" r="7.7" fill="#7f7f7f"/>
<circle cx="1222.7" cy="974.9" r="7.7" fill="#7f7f7f"/>
<circle cx="1229.5" cy="869.4" r="7.7" fill="#7f7f7f"/>
<circle cx="1236.3" cy="872.8" r="7.7" fill="#7f7f7f"/>
<circle cx="1243.1" cy="959.9" r="7.7" fill="#7f7f7f"/>
<circle cx="1250.0" cy="1029.9" r="7.7" fill="#7f7f7f"/>
<circle cx="1256.8" cy="901.8" r="7.7" fill="#7f7f7f"/>
<circle cx="1263.6" cy="850.6" r="7.7" fill="#7f7f7f"/>
<circle cx="1270.4" cy="888.2" r="7.7" fill="#7f7f7f"/>
<circle cx="1277.2" cy="976.1" r="7.7" fill="#7f7f7f"/>
<circle cx="1284.0" cy="1029.9" r="7.7" fill="#7f7f7f"/>
<circle cx="1290.8" cy="939.4" r="7.7" fill="#7f7f7f"/>
<circle cx="1297.6" cy="849.8" r="7.7" fill="#7f7f7f"/>
<circle cx="1304.4" cy="854.0" r="7.7" fill="#7f7f7f"/>
<circle cx="1311.2" cy="945.4" r="7.7" fill="#7f7f7f"/>
<circle cx="1318.0" cy="1024.8" r="7.7" fill="#7f7f7f"/>
<path d="M126.90,1046.32 L130.30,1029.70 L133.71,974.90 L137.11,902.93 L140.51,841.35 L143.92,813.68 L147.32,830.44 L150.72,885.16 L154.13,956.83 L157.53,1018.03 L160.93,1045.38 L164.34,1028.47 L167.74,973.84 L171.14,902.46 L174.54,841.64 L177.95,814.62 L181.35,831.68 L184.75,886.21 L188.16,957.30 L191.56,1017.74 L194.96,1044.44 L198.37,1027.24 L201.77,972.80 L205.17,901.99 L208.58,841.93 L211.98,815.56 L215.38,832.90 L218.79,887.25 L222.19,957.76 L225.59,1017.45 L229.00,1043.50 L232.40,1026.02 L235.80,971.76 L239.21,901.54 L242.61,842.23 L246.01,816.49 L249.42,834.11 L252.82,888.28 L256.22,958.21 L259.62,1017.15 L263.03,1042.57 L266.43,1024.81 L269.83,970.74 L273.24,901.10 L276.64,842.53 L280.04,817.42 L283.45,835.31 L286.85,889.29 L290.25,958.65 L293.66,1016.85 L297.06,1041.64 L300.46,1023.62 L303.87,969.74 L307.27,900.66 L310.67,842.84 L314.08,818.35 L317.48,836.50 L320.88,890.29 L324.29,959.08 L327.69,1016.54 L331.09,1040.72 L334.50,1022.43 L337.90,968.74 L341.30,900.24 L344.70,843.15 L348.11,819.27 L351.51,837.69 L354.91,891.28 L358.32,959.49 L361.72,1016.22 L365.12,1039.79 L368.53,1021.25 L371.93,967.76 L375.33,899.83 L378.74,843.46 L382.14,820.19 L385.54,838.86 L388.95,892.25 L392.35,959.90 L395.75,1015.90 L399.16,1038.87 L402.56,1020.08 L405.96,966.79 L409.37,899.43 L412.77,843.78 L416.17,821.11 L419.58,840.02 L422.98,893.22 L426.38,960.29 L429.78,1015.58 L433.19,1037.96 L436.59,1018.93 L439.99,965.83 L443.40,899.04 L446.80,844.11 L450.20,822.02 L453.61,841.18 L457.01,894.17 L460.41,960.68 L463.82,1015.26 L467.22,1037.05 L470.62,1017.78 L474.03,964.89 L477.43,898.66 L480.83,844.44 L484.24,822.93 L487.64,842.32 L491.04,895.11 L494.45,961.06 L497.85,1014.92 L501.25,1036.14 L504.66,1016.64 L508.06,963.96 L511.46,898.29 L514.86,844.77 L518.27,823.84 L521.67,843.45 L525.07,896.03 L528.48,961.42 L531.88,1014.59 L535.28,1035.23 L538.69,1015.51 L542.09,963.03 L545.49,897.93 L548.90,845.11 L552.30,824.75 L555.70,844.58 L559.11,896.95 L562.51,961.78 L565.91,1014.25 L569.32,1034.33 L572.72,1014.39 L576.12,962.13 L579.53,897.58 L582.93,845.45 L586.33,825.65 L589.74,845.69 L593.14,897.85 L596.54,962.12 L599.94,1013.91 L603.35,1033.43 L606.75,1013.28 L610.15,961.23 L613.56,897.24 L616.96,845.79 L620.36,826.54 L623.77,846.80 L627.17,898.74 L630.57,962.46 L633.98,1013.56 L637.38,1032.54 L640.78,1012.18 L644.19,960.34 L647.59,896.90 L650.99,846.14 L654.40,827.43 L657.80,847.89 L661.20,899.62 L664.61,962.79 L668.01,1013.21 L671.41,1031.65 L674.82,1011.09 L678.22,959.47 L681.62,896.58 L685.02,846.49 L688.43,828.32 L691.83,848.98 L695.23,900.49 L698.64,963.10 L702.04,1012.86 L705.44,1030.76 L708.85,1010.01 L712.25,958.61 L715.65,896.27 L719.06,846.84 L722.46,829.21 L725.86,850.05 L729.27,901.34 L732.67,963.41 L736.07,1012.51 L739.48,1029.88 L742.88,1008.94 L746.28,957.76 L749.69,895.97 L753.09,847.20 L756.49,830.09 L759.90,851.12 L763.30,902.19 L766.70,963.71 L770.10,1012.15 L773.51,1029.00 L776.91,1007.88 L780.31,956.92 L783.72,895.67 L787.12,847.56 L790.52,830.97 L793.93,852.18 L797.33,903.02 L800.73,964.00 L804.14,1011.78 L807.54,1028.12 L810.94,1006.82 L814.35,956.09 L817.75,895.38 L821.15,847.93 L824.56,831.84 L827.96,853.23 L831.36,903.84 L834.77,964.28 L838.17,1011.42 L841.57,1027.25 L844.98,1005.78 L848.38,955.28 L851.78,895.11 L855.18,848.29 L858.59,832.71 L861.99,854.27 L865.39,904.65 L868.80,964.56 L872.20,1011.05 L875.60,1026.38 L879.01,1004.74 L882.41,954.47 L885.81,894.84 L889.22,848.66 L892.62,833.58 L896.02,855.30 L899.43,905.45 L902.83,964.82 L906.23,1010.68 L909.64,1025.52 L913.04,1003.72 L916.44,953.68 L919.85,894.58 L923.25,849.04 L926.65,834.44 L930.06,856.32 L933.46,906.24 L936.86,965.08 L940.26,1010.30 L943.67,1024.66 L947.07,1002.70 L950.47,952.89 L953.88,894.33 L957.28,849.41 L960.68,835.30 L964.09,857.33 L967.49,907.02 L970.89,965.32 L974.30,1009.93 L977.70,1023.80 L981.10,1001.70 L984.51,952.12 L987.91,894.08 L991.31,849.79 L994.72,836.15 L998.12,858.33 L1001.52,907.79 L1004.93,965.56 L1008.33,1009.55 L1011.73,1022.95 L1015.14,1000.70 L1018.54,951.36 L1021.94,893.85 L1025.34,850.17 L1028.75,837.00 L1032.15,859.32 L1035.55,908.54 L1038.96,965.79 L1042.36,1009.17 L1045.76,1022.10 L1049.17,999.71 L1052.57,950.61 L1055.97,893.62 L1059.38,850.55 L1062.78,837.85 L1066.18,860.31 L1069.59,909.29 L1072.99,966.02 L1076.39,1008.78 L1079.80,1021.26 L1083.20,998.73 L1086.60,949.87 L1090.01,893.40 L1093.41,850.94 L1096.81,838.69 L1100.22,861.28 L1103.62,910.03 L1107.02,966.23 L1110.42,1008.39 L1113.83,1020.42 L1117.23,997.76 L1120.63,949.14 L1124.04,893.19 L1127.44,851.33 L1130.84,839.53 L1134.25,862.25 L1137.65,910.75 L1141.05,966.44 L1144.46,1008.01 L1147.86,1019.58 L1151.26,996.80 L1154.67,948.42 L1158.07,892.99 L1161.47,851.72 L1164.88,840.36 L1168.28,863.21 L1171.68,911.47 L1175.09,966.64 L1178.49,1007.61 L1181.89,1018.75 L1185.30,995.84 L1188.70,947.71 L1192.10,892.79 L1195.50,852.11 L1198.91,841.19 L1202.31,864.16 L1205.71,912.17 L1209.12,966.83 L1212.52,1007.22 L1215.92,1017.93 L1219.33,994.90 L1222.73,947.01 L1226.13,892.60 L1229.54,852.50 L1232.94,842.01 L1236.34,865.10 L1239.75,912.87 L1243.15,967.01 L1246.55,1006.83 L1249.96,1017.10 L1253.36,993.96 L1256.76,946.32 L1260.17,892.42 L1263.57,852.90 L1266.97,842.83 L1270.38,866.03 L1273.78,913.55 L1277.18,967.19 L1280.58,1006.43 L1283.99,1016.28 L1287.39,993.04 L1290.79,945.64 L1294.20,892.25 L1297.60,853.30 L1301.00,843.65 L1304.41,866.95 L1307.81,914.23 L1311.21,967.36 L1314.62,1006.03 L1318.02,1015.47" fill="none" stroke="#0028d0" stroke-width="7" stroke-linejoin="bevel"/>
<line x1="1084.3" y1="127.2" x2="1136.8" y2="127.2" stroke="#808080" stroke-width="2.7" />
<circle cx="1110.3" cy="127.2" r="9.3" fill="#7f7f7f"/>
<line x1="1086" y1="171.6" x2="1164.4" y2="171.6" stroke="#ff0000" stroke-width="6.8" />
<text x="1184" y="136.4" font-family='"Liberation Sans", sans-serif' font-size="43" fill="#000" textLength="88" lengthAdjust="spacingAndGlyphs" >Data</text>
<text x="1181.3" y="184.1" font-family='"Liberation Sans", sans-serif' font-size="43" fill="#000" textLength="46" lengthAdjust="spacingAndGlyphs" >Fit</text>
<line x1="1094" y1="759.6" x2="1146.8" y2="759.6" stroke="#808080" stroke-width="2.7" />
<circle cx="1120.2" cy="759.6" r="9.3" fill="#7f7f7f"/>
<line x1="1096" y1="804.5" x2="1174.3" y2="804.5" stroke="#0028d0" stroke-width="6.8" />
<text x="1193.8" y="768.8" font-family='"Liberation Sans", sans-serif' font-size="43" fill="#000" textLength="87.7" lengthAdjust="spacingAndGlyphs" >Data</text>
<text x="1191" y="816.4" font-family='"Liberation Sans", sans-serif' font-size="43" fill="#000" textLength="46" lengthAdjust="spacingAndGlyphs" >Fit</text>
<rect x="451" y="1358" width="26" height="17" fill="#ff5252" stroke="#c03030" stroke-width="1"/>
<text x="502.8" y="1375.1" font-family='"Liberation Sans", sans-serif' font-size="43" fill="#000" textLength="87.6" lengthAdjust="spacingAndGlyphs" >Data</text>
<line x1="439" y1="1411.2" x2="517.2" y2="1411.2" stroke="#000" stroke-width="7" />
<text x="533.8" y="1422.6" font-family='"Liberation Sans", sans-serif' font-size="43" fill="#000" textLength="46.9" lengthAdjust="spacingAndGlyphs" >Fit</text>
<rect x="1147" y="1350.7" width="26.2" height="17.3" fill="#7b98ff" stroke="#3030ff" stroke-width="1"/>
<text x="1199.5" y="1368" font-family='"Liberation Sans", sans-serif' font-size="43" fill="#000" textLength="87.6" lengthAdjust="spacingAndGlyphs" >Data</text>
<line x1="1135.1" y1="1404.2" x2="1212.8" y2="1404.2" stroke="#000" stroke-width="7" />
<text x="1230.2" y="1416.1" font-family='"Liberation Sans", sans-serif' font-size="43" fill="#000" textLength="46.3" lengthAdjust="spacingAndGlyphs" >Fit</text>
<rect x="426.3" y="1426.2" width="261.3" height="117.3" fill="#fff" stroke="#000" stroke-width="3"/>
<text x="428.8" y="1474.5" font-family='"Liberation Serif", serif' font-size="42" fill="#000" font-style="italic" >T</text>
<line x1="434.7" y1="1440.4" x2="452.8" y2="1440.4" stroke="#000" stroke-width="1.6" />
<text x="451" y="1485.3" font-family='"Liberation Serif", serif' font-size="30" fill="#000" >2</text>
<text x="459" y="1463.5" font-family='"Liberation Serif", serif' font-size="27" fill="#000" >*</text>
<text x="475" y="1473.3" font-family='"Liberation Sans", sans-serif' font-size="40" fill="#000" textLength="21.6" lengthAdjust="spacingAndGlyphs" >=</text>
<text x="510.4" y="1473.3" font-family='"Liberation Sans", sans-serif' font-size="40" fill="#000" textLength="81.3" lengthAdjust="spacingAndGlyphs" >3.25</text>
<text x="605" y="1473.3" font-family='"Liberation Serif", serif' font-size="40" fill="#000" >µ</text>
<text x="626" y="1473.3" font-family='"Liberation Sans", sans-serif' font-size="40" fill="#000" >s</text>
<text x="430" y="1525.4" font-family='"Liberation Serif", serif' font-size="44" fill="#000" font-style="italic" >σ</text>
<text x="453" y="1534" font-family='"Liberation Serif", serif' font-size="30" fill="#000" font-style="italic" textLength="50" lengthAdjust="spacingAndGlyphs" >T2*</text>
<text x="508.2" y="1524.4" font-family='"Liberation Sans", sans-serif' font-size="40" fill="#000" textLength="22" lengthAdjust="spacingAndGlyphs" >=</text>
<text x="544.7" y="1524.4" font-family='"Liberation Sans", sans-serif' font-size="40" fill="#000" textLength="80.9" lengthAdjust="spacingAndGlyphs" >0.44</text>
<text x="638.5" y="1524.4" font-family='"Liberation Serif", serif' font-size="40" fill="#000" >µ</text>
<text x="660" y="1524.4" font-family='"Liberation Sans", sans-serif' font-size="40" fill="#000" >s</text>
<rect x="1085.3" y="1434.6" width="260.3" height="120.9" fill="#fff" stroke="#000" stroke-width="3"/>
<text x="1094.6" y="1484.6" font-family='"Liberation Serif", serif' font-size="42" fill="#000" font-style="italic" >T</text>
<line x1="1101.1" y1="1450.4" x2="1119.3" y2="1450.4" stroke="#000" stroke-width="1.6" />
<text x="1117" y="1493.8" font-family='"Liberation Serif", serif' font-size="30" fill="#000" >2</text>
<text x="1138.5" y="1484.1" font-family='"Liberation Sans", sans-serif' font-size="40" fill="#000" textLength="20.8" lengthAdjust="spacingAndGlyphs" >=</text>
<text x="1172.6" y="1484.1" font-family='"Liberation Sans", sans-serif' font-size="40" fill="#000" textLength="104.2" lengthAdjust="spacingAndGlyphs" >21.50</text>
<text x="1291.1" y="1484.1" font-family='"Liberation Serif", serif' font-size="40" fill="#000" >µ</text>
<text x="1312" y="1484.1" font-family='"Liberation Sans", sans-serif' font-size="40" fill="#000" >s</text>
<text x="1096.3" y="1534.8" font-family='"Liberation Serif", serif' font-size="44" fill="#000" font-style="italic" >σ</text>
<text x="1119" y="1544" font-family='"Liberation Serif", serif' font-size="30" fill="#000" font-style="italic" textLength="36" lengthAdjust="spacingAndGlyphs" >T2</text>
<text x="1160.3" y="1534.1" font-family='"Liberation Sans", sans-serif' font-size="40" fill="#000" textLength="20.7" lengthAdjust="spacingAndGlyphs" >=</text>
<text x="1195.3" y="1534.1" font-family='"Liberation Sans", sans-serif' font-size="40" fill="#000" textLength="82" lengthAdjust="spacingAndGlyphs" >5.97</text>
<text x="1290" y="1534.1" font-family='"Liberation Serif", serif' font-size="40" fill="#000" >µ</text>
<text x="1312" y="1534.1" font-family='"Liberation Sans", sans-serif' font-size="40" fill="#000" >s</text>
<text x="875.4" y="439.5" font-family='"Liberation Serif", serif' font-size="48" fill="#ff0000" font-style="italic" >T</text>
<text x="897" y="451" font-family='"Liberation Serif", serif' font-size="31" fill="#ff0000" >2</text>
<text x="907.5" y="427" font-family='"Liberation Serif", serif' font-size="28" fill="#ff0000" >*</text>
<text x="926.8" y="439.5" font-family='"Liberation Sans", sans-serif' font-size="46" fill="#ff0000" font-weight="bold" textLength="24" lengthAdjust="spacingAndGlyphs" >=</text>
<text x="952.1" y="439.5" font-family='"Liberation Sans", sans-serif' font-size="49" fill="#ff0000" textLength="95.4" lengthAdjust="spacingAndGlyphs" >3.33</text>
<text x="1062.2" y="439.5" font-family='"Liberation Serif", serif' font-size="46" fill="#ff0000" textLength="26.7" lengthAdjust="spacingAndGlyphs" >±</text>
<text x="1100.4" y="439.5" font-family='"Liberation Sans", sans-serif' font-size="49" fill="#ff0000" textLength="94" lengthAdjust="spacingAndGlyphs" >0.30</text>
<text x="1212.5" y="439.5" font-family='"Liberation Serif", serif' font-size="46" fill="#ff0000" >µ</text>
<text x="1238" y="439.5" font-family='"Liberation Sans", sans-serif' font-size="48" fill="#ff0000" >s</text>
<text x="884.4" y="1095.8" font-family='"Liberation Serif", serif' font-size="48" fill="#0a0af0" font-style="italic" >T</text>
<text x="906" y="1107" font-family='"Liberation Serif", serif' font-size="32" fill="#0a0af0" >2</text>
<text x="942" y="1095.8" font-family='"Liberation Sans", sans-serif' font-size="46" fill="#0a0af0" font-weight="bold" textLength="22.7" lengthAdjust="spacingAndGlyphs" >=</text>
<text x="965.7" y="1095.8" font-family='"Liberation Sans", sans-serif' font-size="47" fill="#0a0af0" textLength="123" lengthAdjust="spacingAndGlyphs" >23.20</text>
<text x="1102.5" y="1095.8" font-family='"Liberation Serif", serif' font-size="46" fill="#0a0af0" textLength="29.5" lengthAdjust="spacingAndGlyphs" >±</text>
<text x="1146.1" y="1095.8" font-family='"Liberation Sans", sans-serif' font-size="47" fill="#0a0af0" textLength="87.7" lengthAdjust="spacingAndGlyphs" >5.21</text>
<text x="1254.3" y="1095.8" font-family='"Liberation Serif", serif' font-size="46" fill="#0a0af0" >µ</text>
<text x="1278" y="1095.8" font-family='"Liberation Sans", sans-serif' font-size="46" fill="#0a0af0" >s</text>
<rect x="343.5" y="0" width="612.5" height="104" fill="#fff"/>
<rect x="379.5" y="640" width="620.2" height="110" fill="#fff"/>
<path d="M349.00,83.50 L393.00,83.41 L393.58,83.63 L394.16,83.84 L394.74,83.88 L395.32,83.66 L395.89,83.25 L396.47,82.87 L397.05,82.81 L397.63,83.21 L398.21,83.94 L398.79,84.61 L399.37,84.71 L399.95,84.00 L400.52,82.75 L401.10,81.65 L401.68,81.50 L402.26,82.68 L402.84,84.72 L403.42,86.46 L404.00,86.64 L404.58,84.78 L405.15,81.63 L405.73,79.01 L406.31,78.78 L406.89,81.60 L407.47,86.24 L408.05,90.00 L408.63,90.25 L409.21,86.18 L409.78,79.68 L410.36,74.54 L410.94,74.31 L411.52,79.89 L412.10,88.58 L412.68,95.27 L413.26,95.43 L413.84,88.12 L414.41,77.06 L414.99,68.77 L415.57,68.76 L416.15,77.85 L416.73,91.27 L417.31,101.05 L417.89,100.86 L418.47,90.07 L419.04,74.58 L419.62,63.58 L420.20,64.04 L420.78,76.23 L421.36,93.26 L421.94,105.04 L422.52,104.29 L423.10,91.18 L423.67,73.32 L424.25,61.32 L424.83,62.35 L425.41,75.78 L425.99,93.61 L426.57,105.26 L427.15,104.00 L427.73,90.89 L428.30,73.94 L428.88,63.16 L429.46,64.57 L430.04,76.76 L430.62,92.12 L431.20,101.60 L431.78,100.15 L432.36,89.35 L432.93,76.10 L433.51,68.15 L434.09,69.55 L434.67,78.65 L435.25,89.55 L435.83,95.90 L436.41,94.63 L436.99,87.32 L437.56,78.79 L438.14,73.96 L438.72,75.04 L439.30,80.63 L439.88,86.99 L440.46,90.49 L441.04,89.62 L441.62,85.55 L442.19,81.03 L442.77,78.62 L443.35,79.28 L443.93,82.10 L444.51,85.16 L445.09,86.75 L445.67,86.27 L446.25,84.41 L446.82,82.43 L447.40,81.44 L447.98,81.76 L448.56,82.94 L449.14,84.15 L449.72,84.74 L450.30,84.54 L450.88,83.83 L451.45,83.12 L452.03,82.79 L452.61,82.91 L453.19,83.31 L453.77,83.71 L454.35,83.89 L454.93,83.82 L455.51,83.60 L548.00,83.41 L548.58,83.63 L549.16,83.84 L549.74,83.88 L550.32,83.66 L550.89,83.25 L551.47,82.87 L552.05,82.81 L552.63,83.21 L553.21,83.94 L553.79,84.61 L554.37,84.71 L554.95,84.00 L555.52,82.75 L556.10,81.65 L556.68,81.50 L557.26,82.68 L557.84,84.72 L558.42,86.46 L559.00,86.64 L559.58,84.78 L560.15,81.63 L560.73,79.01 L561.31,78.78 L561.89,81.60 L562.47,86.24 L563.05,90.00 L563.63,90.25 L564.21,86.18 L564.78,79.68 L565.36,74.54 L565.94,74.31 L566.52,79.89 L567.10,88.58 L567.68,95.27 L568.26,95.43 L568.84,88.12 L569.41,77.06 L569.99,68.77 L570.57,68.76 L571.15,77.85 L571.73,91.27 L572.31,101.05 L572.89,100.86 L573.47,90.07 L574.04,74.58 L574.62,63.58 L575.20,64.04 L575.78,76.23 L576.36,93.26 L576.94,105.04 L577.52,104.29 L578.10,91.18 L578.67,73.32 L579.25,61.32 L579.83,62.35 L580.41,75.78 L580.99,93.61 L581.57,105.26 L582.15,104.00 L582.73,90.89 L583.30,73.94 L583.88,63.16 L584.46,64.57 L585.04,76.76 L585.62,92.12 L586.20,101.60 L586.78,100.15 L587.36,89.35 L587.93,76.10 L588.51,68.15 L589.09,69.55 L589.67,78.65 L590.25,89.55 L590.83,95.90 L591.41,94.63 L591.99,87.32 L592.56,78.79 L593.14,73.96 L593.72,75.04 L594.30,80.63 L594.88,86.99 L595.46,90.49 L596.04,89.62 L596.62,85.55 L597.19,81.03 L597.77,78.62 L598.35,79.28 L598.93,82.10 L599.51,85.16 L600.09,86.75 L600.67,86.27 L601.25,84.41 L601.82,82.43 L602.40,81.44 L602.98,81.76 L603.56,82.94 L604.14,84.15 L604.72,84.74 L605.30,84.54 L605.88,83.83 L606.45,83.12 L607.03,82.79 L607.61,82.91 L608.19,83.31 L608.77,83.71 L609.35,83.89 L609.93,83.82 L610.51,83.60 L613.00,83.50" fill="none" stroke="#2f55a5" stroke-width="1.9" stroke-linejoin="round"/>
<path d="M916.50,83.50 L949.80,83.50" fill="none" stroke="#2f55a5" stroke-width="1.9" />
<path d="M613.00,83.50 L614.00,83.50 L614.59,51.11 L615.19,37.70 L615.78,51.11 L616.38,83.50 L616.97,115.89 L617.56,129.30 L618.16,115.89 L618.75,83.50 L619.34,51.11 L619.94,37.70 L620.53,51.11 L621.12,83.50 L621.72,115.89 L622.31,129.30 L622.91,115.89 L623.50,83.50 L624.09,51.11 L624.69,37.70 L625.28,51.11 L625.88,83.50 L626.47,115.89 L627.06,129.30 L627.66,115.89 L628.25,83.50 L628.84,51.11 L629.44,37.70 L630.03,51.11 L630.62,83.50 L631.22,115.89 L631.81,129.30 L632.41,115.89 L633.00,83.50 L633.59,51.11 L634.19,37.70 L634.78,51.11 L635.38,83.50 L635.97,115.89 L636.56,129.30 L637.16,115.89 L637.75,83.50 L638.34,51.11 L638.94,37.70 L639.53,51.11 L640.12,83.50 L640.72,115.89 L641.31,129.30 L641.91,115.89 L642.50,83.50 L643.09,51.11 L643.69,37.70 L644.28,51.11 L644.88,83.50 L645.47,115.89 L646.06,129.30 L646.66,115.89 L647.25,83.50 L647.84,51.11 L648.44,37.70 L649.03,51.11 L649.62,83.50 L650.22,115.89 L650.81,129.30 L651.41,115.89 L652.00,83.50 L652.59,51.11 L653.19,37.70 L653.78,51.11 L654.38,83.50 L654.97,115.89 L655.56,129.30 L656.16,115.89 L656.75,83.50 L657.34,51.11 L657.94,37.70 L658.53,51.11 L659.12,83.50 L659.72,115.89 L660.31,129.30 L660.91,115.89 L661.50,83.50 L662.09,51.11 L662.69,37.70 L663.28,51.11 L663.88,83.50 L664.47,115.89 L665.06,129.30 L665.66,115.89 L666.25,83.50 L666.84,51.11 L667.44,37.70 L668.03,51.11 L668.62,83.50 L669.22,115.89 L669.81,129.30 L670.41,115.89 L671.00,83.50 L671.59,51.11 L672.19,37.70 L672.78,51.11 L673.38,83.50 L673.97,115.89 L674.56,129.30 L675.16,115.89 L675.75,83.50 L676.34,51.11 L676.94,37.70 L677.53,51.11 L678.12,83.50 L678.72,115.89 L679.31,129.30 L679.91,115.89 L680.50,83.50 L681.09,51.11 L681.69,37.70 L682.28,51.11 L682.88,83.50 L683.47,115.89 L684.06,129.30 L684.66,115.89 L685.25,83.50 L685.84,51.11 L686.44,37.70 L687.03,51.11 L687.62,83.50 L688.22,115.89 L688.81,129.30 L689.41,115.89 L690.00,83.50 L690.59,51.11 L691.19,37.70 L691.78,51.11 L692.38,83.50 L692.97,115.89 L693.56,129.30 L694.16,115.89 L694.75,83.50 L695.34,51.11 L695.94,37.70 L696.53,51.11 L697.12,83.50 L697.72,115.89 L698.31,129.30 L698.91,115.89 L699.50,83.50 L700.09,51.11 L700.69,37.70 L701.28,51.11 L701.88,83.50 L702.47,115.89 L703.06,129.30 L703.66,115.89 L704.25,83.50 L704.84,51.11 L705.44,37.70 L706.03,51.11 L706.62,83.50 L707.22,115.89 L707.81,129.30 L708.41,115.89 L709.00,83.50 L709.59,51.11 L710.19,37.70 L710.78,51.11 L711.38,83.50 L711.97,115.89 L712.56,129.30 L713.16,115.89 L713.75,83.50 L714.34,51.11 L714.94,37.70 L715.53,51.11 L716.12,83.50 L716.72,115.89 L717.31,129.30 L717.91,115.89 L718.50,83.50 L719.09,51.11 L719.69,37.70 L720.28,51.11 L720.88,83.50 L721.47,115.89 L722.06,129.30 L722.66,115.89 L723.25,83.50 L723.84,51.11 L724.44,37.70 L725.03,51.11 L725.62,83.50 L726.22,115.89 L726.81,129.30 L727.41,115.89 L728.00,83.50 L728.59,51.11 L729.19,37.70 L729.78,51.11 L730.38,83.50 L730.97,115.89 L731.56,129.30 L732.16,115.89 L732.75,83.50 L733.34,51.11 L733.94,37.70 L734.53,51.11 L735.12,83.50 L735.72,115.89 L736.31,129.30 L736.91,115.89 L737.50,83.50 L738.09,51.11 L738.69,37.70 L739.28,51.11 L739.88,83.50 L740.47,115.89 L741.06,129.30 L741.66,115.89 L742.25,83.50 L742.84,51.11 L743.44,37.70 L744.03,51.11 L744.62,83.50 L745.22,115.89 L745.81,129.30 L746.41,115.89 L747.00,83.50 L747.59,51.11 L748.19,37.70 L748.78,51.11 L749.38,83.50 L749.97,115.89 L750.56,129.30 L751.16,115.89 L751.75,83.50 L752.34,51.11 L752.94,37.70 L753.53,51.11 L754.12,83.50 L754.72,115.89 L755.31,129.30 L755.91,115.89 L756.50,83.50 L757.09,51.11 L757.69,37.70 L758.28,51.11 L758.88,83.50 L759.47,115.89 L760.06,129.30 L760.66,115.89 L761.25,83.50 L761.84,51.11 L762.44,37.70 L763.03,51.11 L763.62,83.50 L764.22,115.89 L764.81,129.30 L765.41,115.89 L766.00,83.50 L766.59,51.11 L767.19,37.70 L767.78,51.11 L768.38,83.50 L768.97,115.89 L769.56,129.30 L770.16,115.89 L770.75,83.50 L771.34,51.11 L771.94,37.70 L772.53,51.11 L773.12,83.50 L773.72,115.89 L774.31,129.30 L774.91,115.89 L775.50,83.50 L776.09,51.11 L776.69,37.70 L777.28,51.11 L777.88,83.50 L778.47,115.89 L779.06,129.30 L779.66,115.89 L780.25,83.50 L780.84,51.11 L781.44,37.70 L782.03,51.11 L782.62,83.50 L783.22,115.89 L783.81,129.30 L784.41,115.89 L785.00,83.50 L785.59,51.11 L786.19,37.70 L786.78,51.11 L787.38,83.50 L787.97,115.89 L788.56,129.30 L789.16,115.89 L789.75,83.50 L790.34,51.11 L790.94,37.70 L791.53,51.11 L792.12,83.50 L792.72,115.89 L793.31,129.30 L793.91,115.89 L794.50,83.50 L795.09,51.11 L795.69,37.70 L796.28,51.11 L796.88,83.50 L797.47,115.89 L798.06,129.30 L798.66,115.89 L799.25,83.50 L799.84,51.11 L800.44,37.70 L801.03,51.11 L801.62,83.50 L802.22,115.89 L802.81,129.30 L803.41,115.89 L804.00,83.50 L804.59,51.11 L805.19,37.70 L805.78,51.11 L806.38,83.50 L806.97,115.89 L807.56,129.30 L808.16,115.89 L808.75,83.50 L809.34,51.11 L809.94,37.70 L810.53,51.11 L811.12,83.50 L811.72,115.89 L812.31,129.30 L812.91,115.89 L813.50,83.50 L814.09,51.11 L814.69,37.70 L815.28,51.11 L815.88,83.50 L816.47,115.89 L817.06,129.30 L817.66,115.89 L818.25,83.50 L818.84,51.11 L819.44,37.70 L820.03,51.11 L820.62,83.50 L821.22,115.89 L821.81,129.30 L822.41,115.89 L823.00,83.50 L823.59,51.11 L824.19,37.70 L824.78,51.11 L825.38,83.50 L825.97,115.89 L826.56,129.30 L827.16,115.89 L827.75,83.50 L828.34,51.11 L828.94,37.70 L829.53,51.11 L830.12,83.50 L830.72,115.89 L831.31,129.30 L831.91,115.89 L832.50,83.50 L833.09,51.11 L833.69,37.70 L834.28,51.11 L834.88,83.50 L835.47,115.89 L836.06,129.30 L836.66,115.89 L837.25,83.50 L837.84,51.11 L838.44,37.70 L839.03,51.11 L839.62,83.50 L840.22,115.89 L840.81,129.30 L841.41,115.89 L842.00,83.50 L842.59,51.11 L843.19,37.70 L843.78,51.11 L844.38,83.50 L844.97,115.89 L845.56,129.30 L846.16,115.89 L846.75,83.50 L847.34,51.11 L847.94,37.70 L848.53,51.11 L849.12,83.50 L849.72,115.89 L850.31,129.30 L850.91,115.89 L851.50,83.50 L852.09,51.11 L852.69,37.70 L853.28,51.11 L853.88,83.50 L854.47,115.89 L855.06,129.30 L855.66,115.89 L856.25,83.50 L856.84,51.11 L857.44,37.70 L858.03,51.11 L858.62,83.50 L859.22,115.89 L859.81,129.30 L860.41,115.89 L861.00,83.50 L861.59,51.11 L862.19,37.70 L862.78,51.11 L863.38,83.50 L863.97,115.89 L864.56,129.30 L865.16,115.89 L865.75,83.50 L866.34,51.11 L866.94,37.70 L867.53,51.11 L868.12,83.50 L868.72,115.89 L869.31,129.30 L869.91,115.89 L870.50,83.50 L871.09,51.11 L871.69,37.70 L872.28,51.11 L872.88,83.50 L873.47,115.89 L874.06,129.30 L874.66,115.89 L875.25,83.50 L875.84,51.11 L876.44,37.70 L877.03,51.11 L877.62,83.50 L878.22,115.89 L878.81,129.30 L879.41,115.89 L880.00,83.50 L880.59,51.11 L881.19,37.70 L881.78,51.11 L882.38,83.50 L882.97,115.89 L883.56,129.30 L884.16,115.89 L884.75,83.50 L885.34,51.11 L885.94,37.70 L886.53,51.11 L887.12,83.50 L887.72,115.89 L888.31,129.30 L888.91,115.89 L889.50,83.50 L890.09,51.11 L890.69,37.70 L891.28,51.11 L891.88,83.50 L892.47,115.89 L893.06,129.30 L893.66,115.89 L894.25,83.50 L894.84,51.11 L895.44,37.70 L896.03,51.11 L896.62,83.50 L897.22,115.89 L897.81,129.30 L898.41,115.89 L899.00,83.50 L899.59,51.11 L900.19,37.70 L900.78,51.11 L901.38,83.50 L901.97,115.89 L902.56,129.30 L903.16,115.89 L903.75,83.50 L904.34,51.11 L904.94,37.70 L905.53,51.11 L906.12,83.50 L906.72,115.89 L907.31,129.30 L907.91,115.89 L908.50,83.50 L909.09,51.11 L909.69,37.70 L910.28,51.11 L910.88,83.50 L911.47,115.89 L912.06,129.30 L912.66,115.89 L913.25,83.50 L913.84,51.11 L914.44,37.70 L915.03,51.11 L915.62,83.50 L916.50,83.50" fill="none" stroke="#2f55a5" stroke-width="2.6" stroke-linejoin="round"/>
<path d="M380.00,724.30 L422.70,724.22 L423.28,724.43 L423.86,724.62 L424.44,724.66 L425.02,724.45 L425.59,724.07 L426.17,723.71 L426.75,723.65 L427.33,724.03 L427.91,724.72 L428.49,725.34 L429.07,725.43 L429.65,724.77 L430.22,723.59 L430.80,722.57 L431.38,722.43 L431.96,723.53 L432.54,725.44 L433.12,727.07 L433.70,727.24 L434.28,725.50 L434.85,722.55 L435.43,720.10 L436.01,719.88 L436.59,722.52 L437.17,726.87 L437.75,730.39 L438.33,730.62 L438.91,726.81 L439.48,720.72 L440.06,715.91 L440.64,715.69 L441.22,720.92 L441.80,729.06 L442.38,735.32 L442.96,735.47 L443.54,728.63 L444.11,718.27 L444.69,710.51 L445.27,710.50 L445.85,719.01 L446.43,731.57 L447.01,740.73 L447.59,740.55 L448.17,730.45 L448.74,715.95 L449.32,705.65 L449.90,706.08 L450.48,717.49 L451.06,733.44 L451.64,744.46 L452.22,743.76 L452.80,731.49 L453.37,714.77 L453.95,703.54 L454.53,704.50 L455.11,717.08 L455.69,733.76 L456.27,744.67 L456.85,743.49 L457.43,731.22 L458.00,715.35 L458.58,705.26 L459.16,706.58 L459.74,717.99 L460.32,732.37 L460.90,741.25 L461.48,739.88 L462.06,729.78 L462.63,717.38 L463.21,709.93 L463.79,711.24 L464.37,719.76 L464.95,729.96 L465.53,735.91 L466.11,734.72 L466.69,727.88 L467.26,719.89 L467.84,715.37 L468.42,716.38 L469.00,721.61 L469.58,727.57 L470.16,730.85 L470.74,730.03 L471.32,726.22 L471.89,721.99 L472.47,719.73 L473.05,720.35 L473.63,722.99 L474.21,725.86 L474.79,727.34 L475.37,726.90 L475.95,725.15 L476.52,723.30 L477.10,722.38 L477.68,722.67 L478.26,723.77 L478.84,724.91 L479.42,725.46 L480.00,725.27 L480.58,724.61 L481.15,723.95 L481.73,723.63 L482.31,723.75 L482.89,724.13 L483.47,724.50 L484.05,724.67 L484.63,724.60 L485.21,724.39 L506.70,724.16 L507.28,724.52 L507.86,724.86 L508.44,724.92 L509.02,724.57 L509.59,723.89 L510.17,723.27 L510.75,723.16 L511.33,723.82 L511.91,725.03 L512.49,726.11 L513.07,726.28 L513.65,725.12 L514.22,723.07 L514.80,721.26 L515.38,721.03 L515.96,722.95 L516.54,726.29 L517.12,729.14 L517.70,729.45 L518.28,726.40 L518.85,721.24 L519.43,716.94 L520.01,716.57 L520.59,721.19 L521.17,728.79 L521.75,734.95 L522.33,735.36 L522.91,728.69 L523.48,718.03 L524.06,709.62 L524.64,709.24 L525.22,718.39 L525.80,732.63 L526.38,743.58 L526.96,743.84 L527.54,731.88 L528.11,713.75 L528.69,700.18 L529.27,700.15 L529.85,715.05 L530.43,737.02 L531.01,753.05 L531.59,752.74 L532.17,735.06 L532.74,709.68 L533.32,691.67 L533.90,692.41 L534.48,712.38 L535.06,740.30 L535.64,759.58 L536.22,758.36 L536.80,736.88 L537.37,707.62 L537.95,687.96 L538.53,689.64 L539.11,711.66 L539.69,740.86 L540.27,759.95 L540.85,757.89 L541.43,736.40 L542.00,708.63 L542.58,690.98 L543.16,693.29 L543.74,713.26 L544.32,738.42 L544.90,753.96 L545.48,751.57 L546.06,733.89 L546.63,712.18 L547.21,699.15 L547.79,701.45 L548.37,716.36 L548.95,734.21 L549.53,744.61 L550.11,742.53 L550.69,730.56 L551.26,716.58 L551.84,708.67 L552.42,710.44 L553.00,719.60 L553.58,730.02 L554.16,735.75 L554.74,734.33 L555.32,727.66 L555.89,720.26 L556.47,716.30 L557.05,717.38 L557.63,722.01 L558.21,727.02 L558.79,729.62 L559.37,728.85 L559.95,725.79 L560.52,722.55 L561.10,720.93 L561.68,721.46 L562.26,723.38 L562.84,725.37 L563.42,726.33 L564.00,726.00 L564.58,724.84 L565.15,723.68 L565.73,723.13 L566.31,723.34 L566.89,724.00 L567.47,724.64 L568.05,724.94 L568.63,724.82 L569.21,724.46 L594.60,724.22 L595.18,724.43 L595.76,724.62 L596.34,724.66 L596.92,724.45 L597.49,724.07 L598.07,723.71 L598.65,723.65 L599.23,724.03 L599.81,724.72 L600.39,725.34 L600.97,725.43 L601.55,724.77 L602.12,723.59 L602.70,722.57 L603.28,722.43 L603.86,723.53 L604.44,725.44 L605.02,727.07 L605.60,727.24 L606.18,725.50 L606.75,722.55 L607.33,720.10 L607.91,719.88 L608.49,722.52 L609.07,726.87 L609.65,730.39 L610.23,730.62 L610.81,726.81 L611.38,720.72 L611.96,715.91 L612.54,715.69 L613.12,720.92 L613.70,729.06 L614.28,735.32 L614.86,735.47 L615.44,728.63 L616.01,718.27 L616.59,710.51 L617.17,710.50 L617.75,719.01 L618.33,731.57 L618.91,740.73 L619.49,740.55 L620.07,730.45 L620.64,715.95 L621.22,705.65 L621.80,706.08 L622.38,717.49 L622.96,733.44 L623.54,744.46 L624.12,743.76 L624.70,731.49 L625.27,714.77 L625.85,703.54 L626.43,704.50 L627.01,717.08 L627.59,733.76 L628.17,744.67 L628.75,743.49 L629.33,731.22 L629.90,715.35 L630.48,705.26 L631.06,706.58 L631.64,717.99 L632.22,732.37 L632.80,741.25 L633.38,739.88 L633.96,729.78 L634.53,717.38 L635.11,709.93 L635.69,711.24 L636.27,719.76 L636.85,729.96 L637.43,735.91 L638.01,734.72 L638.59,727.88 L639.16,719.89 L639.74,715.37 L640.32,716.38 L640.90,721.61 L641.48,727.57 L642.06,730.85 L642.64,730.03 L643.22,726.22 L643.79,721.99 L644.37,719.73 L644.95,720.35 L645.53,722.99 L646.11,725.86 L646.69,727.34 L647.27,726.90 L647.85,725.15 L648.42,723.30 L649.00,722.38 L649.58,722.67 L650.16,723.77 L650.74,724.91 L651.32,725.46 L651.90,725.27 L652.48,724.61 L653.05,723.95 L653.63,723.63 L654.21,723.75 L654.79,724.13 L655.37,724.50 L655.95,724.67 L656.53,724.60 L657.11,724.39 L654.50,724.30" fill="none" stroke="#2f55a5" stroke-width="1.9" stroke-linejoin="round"/>
<path d="M949.40,724.30 L982.70,724.30" fill="none" stroke="#2f55a5" stroke-width="1.9" />
<path d="M654.50,724.30 L655.50,724.30 L656.09,692.98 L656.69,680.00 L657.28,692.98 L657.88,724.30 L658.47,755.62 L659.06,768.60 L659.66,755.62 L660.25,724.30 L660.84,692.98 L661.44,680.00 L662.03,692.98 L662.62,724.30 L663.22,755.62 L663.81,768.60 L664.41,755.62 L665.00,724.30 L665.59,692.98 L666.19,680.00 L666.78,692.98 L667.38,724.30 L667.97,755.62 L668.56,768.60 L669.16,755.62 L669.75,724.30 L670.34,692.98 L670.94,680.00 L671.53,692.98 L672.12,724.30 L672.72,755.62 L673.31,768.60 L673.91,755.62 L674.50,724.30 L675.09,692.98 L675.69,680.00 L676.28,692.98 L676.88,724.30 L677.47,755.62 L678.06,768.60 L678.66,755.62 L679.25,724.30 L679.84,692.98 L680.44,680.00 L681.03,692.98 L681.62,724.30 L682.22,755.62 L682.81,768.60 L683.41,755.62 L684.00,724.30 L684.59,692.98 L685.19,680.00 L685.78,692.98 L686.38,724.30 L686.97,755.62 L687.56,768.60 L688.16,755.62 L688.75,724.30 L689.34,692.98 L689.94,680.00 L690.53,692.98 L691.12,724.30 L691.72,755.62 L692.31,768.60 L692.91,755.62 L693.50,724.30 L694.09,692.98 L694.69,680.00 L695.28,692.98 L695.88,724.30 L696.47,755.62 L697.06,768.60 L697.66,755.62 L698.25,724.30 L698.84,692.98 L699.44,680.00 L700.03,692.98 L700.62,724.30 L701.22,755.62 L701.81,768.60 L702.41,755.62 L703.00,724.30 L703.59,692.98 L704.19,680.00 L704.78,692.98 L705.38,724.30 L705.97,755.62 L706.56,768.60 L707.16,755.62 L707.75,724.30 L708.34,692.98 L708.94,680.00 L709.53,692.98 L710.12,724.30 L710.72,755.62 L711.31,768.60 L711.91,755.62 L712.50,724.30 L713.09,692.98 L713.69,680.00 L714.28,692.98 L714.88,724.30 L715.47,755.62 L716.06,768.60 L716.66,755.62 L717.25,724.30 L717.84,692.98 L718.44,680.00 L719.03,692.98 L719.62,724.30 L720.22,755.62 L720.81,768.60 L721.41,755.62 L722.00,724.30 L722.59,692.98 L723.19,680.00 L723.78,692.98 L724.38,724.30 L724.97,755.62 L725.56,768.60 L726.16,755.62 L726.75,724.30 L727.34,692.98 L727.94,680.00 L728.53,692.98 L729.12,724.30 L729.72,755.62 L730.31,768.60 L730.91,755.62 L731.50,724.30 L732.09,692.98 L732.69,680.00 L733.28,692.98 L733.88,724.30 L734.47,755.62 L735.06,768.60 L735.66,755.62 L736.25,724.30 L736.84,692.98 L737.44,680.00 L738.03,692.98 L738.62,724.30 L739.22,755.62 L739.81,768.60 L740.41,755.62 L741.00,724.30 L741.59,692.98 L742.19,680.00 L742.78,692.98 L743.38,724.30 L743.97,755.62 L744.56,768.60 L745.16,755.62 L745.75,724.30 L746.34,692.98 L746.94,680.00 L747.53,692.98 L748.12,724.30 L748.72,755.62 L749.31,768.60 L749.91,755.62 L750.50,724.30 L751.09,692.98 L751.69,680.00 L752.28,692.98 L752.88,724.30 L753.47,755.62 L754.06,768.60 L754.66,755.62 L755.25,724.30 L755.84,692.98 L756.44,680.00 L757.03,692.98 L757.62,724.30 L758.22,755.62 L758.81,768.60 L759.41,755.62 L760.00,724.30 L760.59,692.98 L761.19,680.00 L761.78,692.98 L762.38,724.30 L762.97,755.62 L763.56,768.60 L764.16,755.62 L764.75,724.30 L765.34,692.98 L765.94,680.00 L766.53,692.98 L767.12,724.30 L767.72,755.62 L768.31,768.60 L768.91,755.62 L769.50,724.30 L770.09,692.98 L770.69,680.00 L771.28,692.98 L771.88,724.30 L772.47,755.62 L773.06,768.60 L773.66,755.62 L774.25,724.30 L774.84,692.98 L775.44,680.00 L776.03,692.98 L776.62,724.30 L777.22,755.62 L777.81,768.60 L778.41,755.62 L779.00,724.30 L779.59,692.98 L780.19,680.00 L780.78,692.98 L781.38,724.30 L781.97,755.62 L782.56,768.60 L783.16,755.62 L783.75,724.30 L784.34,692.98 L784.94,680.00 L785.53,692.98 L786.12,724.30 L786.72,755.62 L787.31,768.60 L787.91,755.62 L788.50,724.30 L789.09,692.98 L789.69,680.00 L790.28,692.98 L790.88,724.30 L791.47,755.62 L792.06,768.60 L792.66,755.62 L793.25,724.30 L793.84,692.98 L794.44,680.00 L795.03,692.98 L795.62,724.30 L796.22,755.62 L796.81,768.60 L797.41,755.62 L798.00,724.30 L798.59,692.98 L799.19,680.00 L799.78,692.98 L800.38,724.30 L800.97,755.62 L801.56,768.60 L802.16,755.62 L802.75,724.30 L803.34,692.98 L803.94,680.00 L804.53,692.98 L805.12,724.30 L805.72,755.62 L806.31,768.60 L806.91,755.62 L807.50,724.30 L808.09,692.98 L808.69,680.00 L809.28,692.98 L809.88,724.30 L810.47,755.62 L811.06,768.60 L811.66,755.62 L812.25,724.30 L812.84,692.98 L813.44,680.00 L814.03,692.98 L814.62,724.30 L815.22,755.62 L815.81,768.60 L816.41,755.62 L817.00,724.30 L817.59,692.98 L818.19,680.00 L818.78,692.98 L819.38,724.30 L819.97,755.62 L820.56,768.60 L821.16,755.62 L821.75,724.30 L822.34,692.98 L822.94,680.00 L823.53,692.98 L824.12,724.30 L824.72,755.62 L825.31,768.60 L825.91,755.62 L826.50,724.30 L827.09,692.98 L827.69,680.00 L828.28,692.98 L828.88,724.30 L829.47,755.62 L830.06,768.60 L830.66,755.62 L831.25,724.30 L831.84,692.98 L832.44,680.00 L833.03,692.98 L833.62,724.30 L834.22,755.62 L834.81,768.60 L835.41,755.62 L836.00,724.30 L836.59,692.98 L837.19,680.00 L837.78,692.98 L838.38,724.30 L838.97,755.62 L839.56,768.60 L840.16,755.62 L840.75,724.30 L841.34,692.98 L841.94,680.00 L842.53,692.98 L843.12,724.30 L843.72,755.62 L844.31,768.60 L844.91,755.62 L845.50,724.30 L846.09,692.98 L846.69,680.00 L847.28,692.98 L847.88,724.30 L848.47,755.62 L849.06,768.60 L849.66,755.62 L850.25,724.30 L850.84,692.98 L851.44,680.00 L852.03,692.98 L852.62,724.30 L853.22,755.62 L853.81,768.60 L854.41,755.62 L855.00,724.30 L855.59,692.98 L856.19,680.00 L856.78,692.98 L857.38,724.30 L857.97,755.62 L858.56,768.60 L859.16,755.62 L859.75,724.30 L860.34,692.98 L860.94,680.00 L861.53,692.98 L862.12,724.30 L862.72,755.62 L863.31,768.60 L863.91,755.62 L864.50,724.30 L865.09,692.98 L865.69,680.00 L866.28,692.98 L866.88,724.30 L867.47,755.62 L868.06,768.60 L868.66,755.62 L869.25,724.30 L869.84,692.98 L870.44,680.00 L871.03,692.98 L871.62,724.30 L872.22,755.62 L872.81,768.60 L873.41,755.62 L874.00,724.30 L874.59,692.98 L875.19,680.00 L875.78,692.98 L876.38,724.30 L876.97,755.62 L877.56,768.60 L878.16,755.62 L878.75,724.30 L879.34,692.98 L879.94,680.00 L880.53,692.98 L881.12,724.30 L881.72,755.62 L882.31,768.60 L882.91,755.62 L883.50,724.30 L884.09,692.98 L884.69,680.00 L885.28,692.98 L885.88,724.30 L886.47,755.62 L887.06,768.60 L887.66,755.62 L888.25,724.30 L888.84,692.98 L889.44,680.00 L890.03,692.98 L890.62,724.30 L891.22,755.62 L891.81,768.60 L892.41,755.62 L893.00,724.30 L893.59,692.98 L894.19,680.00 L894.78,692.98 L895.38,724.30 L895.97,755.62 L896.56,768.60 L897.16,755.62 L897.75,724.30 L898.34,692.98 L898.94,680.00 L899.53,692.98 L900.12,724.30 L900.72,755.62 L901.31,768.60 L901.91,755.62 L902.50,724.30 L903.09,692.98 L903.69,680.00 L904.28,692.98 L904.88,724.30 L905.47,755.62 L906.06,768.60 L906.66,755.62 L907.25,724.30 L907.84,692.98 L908.44,680.00 L909.03,692.98 L909.62,724.30 L910.22,755.62 L910.81,768.60 L911.41,755.62 L912.00,724.30 L912.59,692.98 L913.19,680.00 L913.78,692.98 L914.38,724.30 L914.97,755.62 L915.56,768.60 L916.16,755.62 L916.75,724.30 L917.34,692.98 L917.94,680.00 L918.53,692.98 L919.12,724.30 L919.72,755.62 L920.31,768.60 L920.91,755.62 L921.50,724.30 L922.09,692.98 L922.69,680.00 L923.28,692.98 L923.88,724.30 L924.47,755.62 L925.06,768.60 L925.66,755.62 L926.25,724.30 L926.84,692.98 L927.44,680.00 L928.03,692.98 L928.62,724.30 L929.22,755.62 L929.81,768.60 L930.41,755.62 L931.00,724.30 L931.59,692.98 L932.19,680.00 L932.78,692.98 L933.38,724.30 L933.97,755.62 L934.56,768.60 L935.16,755.62 L935.75,724.30 L936.34,692.98 L936.94,680.00 L937.53,692.98 L938.12,724.30 L938.72,755.62 L939.31,768.60 L939.91,755.62 L940.50,724.30 L941.09,692.98 L941.69,680.00 L942.28,692.98 L942.88,724.30 L943.47,755.62 L944.06,768.60 L944.66,755.62 L945.25,724.30 L945.84,692.98 L946.44,680.00 L947.03,692.98 L947.62,724.30 L948.22,755.62 L948.81,768.60 L949.40,724.30" fill="none" stroke="#2f55a5" stroke-width="2.6" stroke-linejoin="round"/>
<text x="391.6" y="50.7" font-family='"Liberation Sans", sans-serif' font-size="44" fill="#000"><tspan font-family='"Liberation Serif", serif' font-style="italic" font-size="42">π</tspan><tspan dx="2.5">/2</tspan></text>
<text x="544.6" y="50.7" font-family='"Liberation Sans", sans-serif' font-size="44" fill="#000"><tspan font-family='"Liberation Serif", serif' font-style="italic" font-size="42">π</tspan><tspan dx="2.5">/2</tspan></text>
<text x="689.9" y="31.7" font-family='"Liberation Sans", sans-serif' font-size="44" fill="#000" textLength="162.8" lengthAdjust="spacingAndGlyphs" >Readout</text>
<text x="420.5" y="690.1" font-family='"Liberation Sans", sans-serif' font-size="44" fill="#000"><tspan font-family='"Liberation Serif", serif' font-style="italic" font-size="42">π</tspan><tspan dx="2.5">/2</tspan></text>
<text x="527" y="674.5" font-family='"Liberation Sans", sans-serif' font-size="44" fill="#000"><tspan font-family='"Liberation Serif", serif' font-style="italic" font-size="42">π</tspan><tspan dx="2.5"></tspan></text>
<text x="589.3" y="690.1" font-family='"Liberation Sans", sans-serif' font-size="44" fill="#000"><tspan font-family='"Liberation Serif", serif' font-style="italic" font-size="42">π</tspan><tspan dx="2.5">/2</tspan></text>
<text x="710.5" y="672.3" font-family='"Liberation Sans", sans-serif' font-size="44" fill="#000" textLength="158.3" lengthAdjust="spacingAndGlyphs" >Readout</text>
<line x1="424" y1="107" x2="424" y2="149" stroke="#000" stroke-width="2.2" stroke-dasharray="5.5,3.5"/>
<line x1="580" y1="104.7" x2="580" y2="146" stroke="#000" stroke-width="2.2" stroke-dasharray="5.5,3.5"/>
<line x1="453.5" y1="744.7" x2="453.5" y2="783.7" stroke="#000" stroke-width="2.2" stroke-dasharray="5.5,3.5"/>
<line x1="538.2" y1="760.3" x2="538.2" y2="789.2" stroke="#000" stroke-width="2.2" stroke-dasharray="5.5,3.5"/>
<line x1="626.1" y1="744" x2="626.1" y2="782.5" stroke="#000" stroke-width="2.2" stroke-dasharray="5.5,3.5"/>
<line x1="437" y1="135.9" x2="567" y2="135.9" stroke="#ff0000" stroke-width="2.4" stroke-dasharray="6,3.5"/>
<polygon points="424,135.9 437,129.9 437,141.9" fill="#ff0000"/>
<polygon points="580,135.9 567,129.9 567,141.9" fill="#ff0000"/>
<line x1="466.5" y1="783.7" x2="525.2" y2="783.7" stroke="#ff0000" stroke-width="2.4" stroke-dasharray="6,3.5"/>
<polygon points="453.5,783.7 466.5,777.7 466.5,789.7" fill="#ff0000"/>
<polygon points="538.2,783.7 525.2,777.7 525.2,789.7" fill="#ff0000"/>
<line x1="551.2" y1="783.7" x2="613.1" y2="783.7" stroke="#ff0000" stroke-width="2.4" stroke-dasharray="6,3.5"/>
<polygon points="538.2,783.7 551.2,777.7 551.2,789.7" fill="#ff0000"/>
<polygon points="626.1,783.7 613.1,777.7 613.1,789.7" fill="#ff0000"/>
<text x="492.6" y="119.5" font-family='"Liberation Serif", serif' font-size="44" fill="#ff0000" textLength="18" lengthAdjust="spacingAndGlyphs" >τ</text>
<text x="460.2" y="773.6" font-family='"Liberation Serif", serif' font-size="43" fill="#ff0000" textLength="60.1" lengthAdjust="spacingAndGlyphs" >τ/2</text>
<text x="552.6" y="773.6" font-family='"Liberation Serif", serif' font-size="43" fill="#ff0000" textLength="60.2" lengthAdjust="spacingAndGlyphs" >τ/2</text>
</svg></body></html>
